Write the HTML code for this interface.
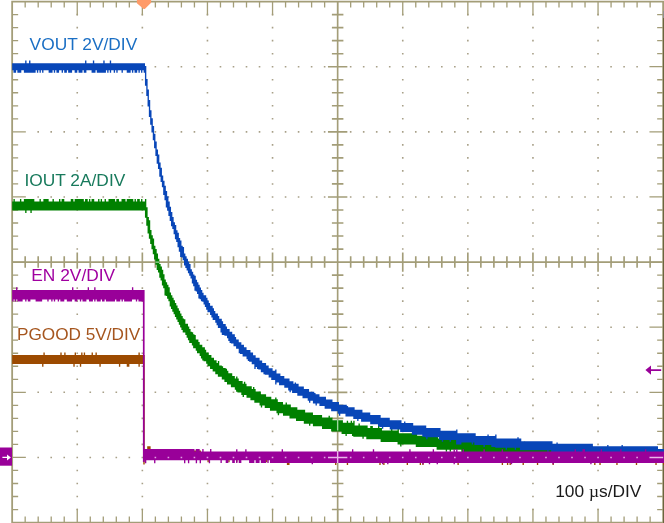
<!DOCTYPE html>
<html><head><meta charset="utf-8"><title>Scope capture</title>
<style>
html,body{margin:0;padding:0;background:#fff;}
body{width:664px;height:523px;overflow:hidden;}
svg{display:block;}
text{font-family:"Liberation Sans",Arial,Helvetica,sans-serif;font-size:17.35px;}
.mu{font-family:"Liberation Serif","Times New Roman",serif;}
</style></head><body>
<svg width="664" height="523" viewBox="0 0 664 523">
<rect width="664" height="523" fill="#fff"/>
<path d="M37.39 65.92h1.6v1.6h-1.6zM37.39 131.04h1.6v1.6h-1.6zM37.39 196.16h1.6v1.6h-1.6zM37.39 326.4h1.6v1.6h-1.6zM37.39 391.52h1.6v1.6h-1.6zM37.39 456.64h1.6v1.6h-1.6zM50.41 65.92h1.6v1.6h-1.6zM50.41 131.04h1.6v1.6h-1.6zM50.41 196.16h1.6v1.6h-1.6zM50.41 326.4h1.6v1.6h-1.6zM50.41 391.52h1.6v1.6h-1.6zM50.41 456.64h1.6v1.6h-1.6zM63.43 65.92h1.6v1.6h-1.6zM63.43 131.04h1.6v1.6h-1.6zM63.43 196.16h1.6v1.6h-1.6zM63.43 326.4h1.6v1.6h-1.6zM63.43 391.52h1.6v1.6h-1.6zM63.43 456.64h1.6v1.6h-1.6zM76.45 13.82h1.6v1.6h-1.6zM76.45 26.85h1.6v1.6h-1.6zM76.45 39.87h1.6v1.6h-1.6zM76.45 52.9h1.6v1.6h-1.6zM76.45 65.92h1.6v1.6h-1.6zM76.45 78.94h1.6v1.6h-1.6zM76.45 91.97h1.6v1.6h-1.6zM76.45 104.99h1.6v1.6h-1.6zM76.45 118.02h1.6v1.6h-1.6zM76.45 131.04h1.6v1.6h-1.6zM76.45 144.06h1.6v1.6h-1.6zM76.45 157.09h1.6v1.6h-1.6zM76.45 170.11h1.6v1.6h-1.6zM76.45 183.14h1.6v1.6h-1.6zM76.45 196.16h1.6v1.6h-1.6zM76.45 209.18h1.6v1.6h-1.6zM76.45 222.21h1.6v1.6h-1.6zM76.45 235.23h1.6v1.6h-1.6zM76.45 248.26h1.6v1.6h-1.6zM76.45 274.3h1.6v1.6h-1.6zM76.45 287.33h1.6v1.6h-1.6zM76.45 300.35h1.6v1.6h-1.6zM76.45 313.38h1.6v1.6h-1.6zM76.45 326.4h1.6v1.6h-1.6zM76.45 339.42h1.6v1.6h-1.6zM76.45 352.45h1.6v1.6h-1.6zM76.45 365.47h1.6v1.6h-1.6zM76.45 378.5h1.6v1.6h-1.6zM76.45 391.52h1.6v1.6h-1.6zM76.45 404.54h1.6v1.6h-1.6zM76.45 417.57h1.6v1.6h-1.6zM76.45 430.59h1.6v1.6h-1.6zM76.45 443.62h1.6v1.6h-1.6zM76.45 456.64h1.6v1.6h-1.6zM76.45 469.66h1.6v1.6h-1.6zM76.45 482.69h1.6v1.6h-1.6zM76.45 495.71h1.6v1.6h-1.6zM76.45 508.74h1.6v1.6h-1.6zM89.47 65.92h1.6v1.6h-1.6zM89.47 131.04h1.6v1.6h-1.6zM89.47 196.16h1.6v1.6h-1.6zM89.47 326.4h1.6v1.6h-1.6zM89.47 391.52h1.6v1.6h-1.6zM89.47 456.64h1.6v1.6h-1.6zM102.49 65.92h1.6v1.6h-1.6zM102.49 131.04h1.6v1.6h-1.6zM102.49 196.16h1.6v1.6h-1.6zM102.49 326.4h1.6v1.6h-1.6zM102.49 391.52h1.6v1.6h-1.6zM102.49 456.64h1.6v1.6h-1.6zM115.51 65.92h1.6v1.6h-1.6zM115.51 131.04h1.6v1.6h-1.6zM115.51 196.16h1.6v1.6h-1.6zM115.51 326.4h1.6v1.6h-1.6zM115.51 391.52h1.6v1.6h-1.6zM115.51 456.64h1.6v1.6h-1.6zM128.53 65.92h1.6v1.6h-1.6zM128.53 131.04h1.6v1.6h-1.6zM128.53 196.16h1.6v1.6h-1.6zM128.53 326.4h1.6v1.6h-1.6zM128.53 391.52h1.6v1.6h-1.6zM128.53 456.64h1.6v1.6h-1.6zM141.55 13.82h1.6v1.6h-1.6zM141.55 26.85h1.6v1.6h-1.6zM141.55 39.87h1.6v1.6h-1.6zM141.55 52.9h1.6v1.6h-1.6zM141.55 65.92h1.6v1.6h-1.6zM141.55 78.94h1.6v1.6h-1.6zM141.55 91.97h1.6v1.6h-1.6zM141.55 104.99h1.6v1.6h-1.6zM141.55 118.02h1.6v1.6h-1.6zM141.55 131.04h1.6v1.6h-1.6zM141.55 144.06h1.6v1.6h-1.6zM141.55 157.09h1.6v1.6h-1.6zM141.55 170.11h1.6v1.6h-1.6zM141.55 183.14h1.6v1.6h-1.6zM141.55 196.16h1.6v1.6h-1.6zM141.55 209.18h1.6v1.6h-1.6zM141.55 222.21h1.6v1.6h-1.6zM141.55 235.23h1.6v1.6h-1.6zM141.55 248.26h1.6v1.6h-1.6zM141.55 274.3h1.6v1.6h-1.6zM141.55 287.33h1.6v1.6h-1.6zM141.55 300.35h1.6v1.6h-1.6zM141.55 313.38h1.6v1.6h-1.6zM141.55 326.4h1.6v1.6h-1.6zM141.55 339.42h1.6v1.6h-1.6zM141.55 352.45h1.6v1.6h-1.6zM141.55 365.47h1.6v1.6h-1.6zM141.55 378.5h1.6v1.6h-1.6zM141.55 391.52h1.6v1.6h-1.6zM141.55 404.54h1.6v1.6h-1.6zM141.55 417.57h1.6v1.6h-1.6zM141.55 430.59h1.6v1.6h-1.6zM141.55 443.62h1.6v1.6h-1.6zM141.55 456.64h1.6v1.6h-1.6zM141.55 469.66h1.6v1.6h-1.6zM141.55 482.69h1.6v1.6h-1.6zM141.55 495.71h1.6v1.6h-1.6zM141.55 508.74h1.6v1.6h-1.6zM154.57 65.92h1.6v1.6h-1.6zM154.57 131.04h1.6v1.6h-1.6zM154.57 196.16h1.6v1.6h-1.6zM154.57 326.4h1.6v1.6h-1.6zM154.57 391.52h1.6v1.6h-1.6zM154.57 456.64h1.6v1.6h-1.6zM167.59 65.92h1.6v1.6h-1.6zM167.59 131.04h1.6v1.6h-1.6zM167.59 196.16h1.6v1.6h-1.6zM167.59 326.4h1.6v1.6h-1.6zM167.59 391.52h1.6v1.6h-1.6zM167.59 456.64h1.6v1.6h-1.6zM180.61 65.92h1.6v1.6h-1.6zM180.61 131.04h1.6v1.6h-1.6zM180.61 196.16h1.6v1.6h-1.6zM180.61 326.4h1.6v1.6h-1.6zM180.61 391.52h1.6v1.6h-1.6zM180.61 456.64h1.6v1.6h-1.6zM193.63 65.92h1.6v1.6h-1.6zM193.63 131.04h1.6v1.6h-1.6zM193.63 196.16h1.6v1.6h-1.6zM193.63 326.4h1.6v1.6h-1.6zM193.63 391.52h1.6v1.6h-1.6zM193.63 456.64h1.6v1.6h-1.6zM206.65 13.82h1.6v1.6h-1.6zM206.65 26.85h1.6v1.6h-1.6zM206.65 39.87h1.6v1.6h-1.6zM206.65 52.9h1.6v1.6h-1.6zM206.65 65.92h1.6v1.6h-1.6zM206.65 78.94h1.6v1.6h-1.6zM206.65 91.97h1.6v1.6h-1.6zM206.65 104.99h1.6v1.6h-1.6zM206.65 118.02h1.6v1.6h-1.6zM206.65 131.04h1.6v1.6h-1.6zM206.65 144.06h1.6v1.6h-1.6zM206.65 157.09h1.6v1.6h-1.6zM206.65 170.11h1.6v1.6h-1.6zM206.65 183.14h1.6v1.6h-1.6zM206.65 196.16h1.6v1.6h-1.6zM206.65 209.18h1.6v1.6h-1.6zM206.65 222.21h1.6v1.6h-1.6zM206.65 235.23h1.6v1.6h-1.6zM206.65 248.26h1.6v1.6h-1.6zM206.65 274.3h1.6v1.6h-1.6zM206.65 287.33h1.6v1.6h-1.6zM206.65 300.35h1.6v1.6h-1.6zM206.65 313.38h1.6v1.6h-1.6zM206.65 326.4h1.6v1.6h-1.6zM206.65 339.42h1.6v1.6h-1.6zM206.65 352.45h1.6v1.6h-1.6zM206.65 365.47h1.6v1.6h-1.6zM206.65 378.5h1.6v1.6h-1.6zM206.65 391.52h1.6v1.6h-1.6zM206.65 404.54h1.6v1.6h-1.6zM206.65 417.57h1.6v1.6h-1.6zM206.65 430.59h1.6v1.6h-1.6zM206.65 443.62h1.6v1.6h-1.6zM206.65 456.64h1.6v1.6h-1.6zM206.65 469.66h1.6v1.6h-1.6zM206.65 482.69h1.6v1.6h-1.6zM206.65 495.71h1.6v1.6h-1.6zM206.65 508.74h1.6v1.6h-1.6zM219.67 65.92h1.6v1.6h-1.6zM219.67 131.04h1.6v1.6h-1.6zM219.67 196.16h1.6v1.6h-1.6zM219.67 326.4h1.6v1.6h-1.6zM219.67 391.52h1.6v1.6h-1.6zM219.67 456.64h1.6v1.6h-1.6zM232.69 65.92h1.6v1.6h-1.6zM232.69 131.04h1.6v1.6h-1.6zM232.69 196.16h1.6v1.6h-1.6zM232.69 326.4h1.6v1.6h-1.6zM232.69 391.52h1.6v1.6h-1.6zM232.69 456.64h1.6v1.6h-1.6zM245.71 65.92h1.6v1.6h-1.6zM245.71 131.04h1.6v1.6h-1.6zM245.71 196.16h1.6v1.6h-1.6zM245.71 326.4h1.6v1.6h-1.6zM245.71 391.52h1.6v1.6h-1.6zM245.71 456.64h1.6v1.6h-1.6zM258.73 65.92h1.6v1.6h-1.6zM258.73 131.04h1.6v1.6h-1.6zM258.73 196.16h1.6v1.6h-1.6zM258.73 326.4h1.6v1.6h-1.6zM258.73 391.52h1.6v1.6h-1.6zM258.73 456.64h1.6v1.6h-1.6zM271.75 13.82h1.6v1.6h-1.6zM271.75 26.85h1.6v1.6h-1.6zM271.75 39.87h1.6v1.6h-1.6zM271.75 52.9h1.6v1.6h-1.6zM271.75 65.92h1.6v1.6h-1.6zM271.75 78.94h1.6v1.6h-1.6zM271.75 91.97h1.6v1.6h-1.6zM271.75 104.99h1.6v1.6h-1.6zM271.75 118.02h1.6v1.6h-1.6zM271.75 131.04h1.6v1.6h-1.6zM271.75 144.06h1.6v1.6h-1.6zM271.75 157.09h1.6v1.6h-1.6zM271.75 170.11h1.6v1.6h-1.6zM271.75 183.14h1.6v1.6h-1.6zM271.75 196.16h1.6v1.6h-1.6zM271.75 209.18h1.6v1.6h-1.6zM271.75 222.21h1.6v1.6h-1.6zM271.75 235.23h1.6v1.6h-1.6zM271.75 248.26h1.6v1.6h-1.6zM271.75 274.3h1.6v1.6h-1.6zM271.75 287.33h1.6v1.6h-1.6zM271.75 300.35h1.6v1.6h-1.6zM271.75 313.38h1.6v1.6h-1.6zM271.75 326.4h1.6v1.6h-1.6zM271.75 339.42h1.6v1.6h-1.6zM271.75 352.45h1.6v1.6h-1.6zM271.75 365.47h1.6v1.6h-1.6zM271.75 378.5h1.6v1.6h-1.6zM271.75 391.52h1.6v1.6h-1.6zM271.75 404.54h1.6v1.6h-1.6zM271.75 417.57h1.6v1.6h-1.6zM271.75 430.59h1.6v1.6h-1.6zM271.75 443.62h1.6v1.6h-1.6zM271.75 456.64h1.6v1.6h-1.6zM271.75 469.66h1.6v1.6h-1.6zM271.75 482.69h1.6v1.6h-1.6zM271.75 495.71h1.6v1.6h-1.6zM271.75 508.74h1.6v1.6h-1.6zM284.77 65.92h1.6v1.6h-1.6zM284.77 131.04h1.6v1.6h-1.6zM284.77 196.16h1.6v1.6h-1.6zM284.77 326.4h1.6v1.6h-1.6zM284.77 391.52h1.6v1.6h-1.6zM284.77 456.64h1.6v1.6h-1.6zM297.79 65.92h1.6v1.6h-1.6zM297.79 131.04h1.6v1.6h-1.6zM297.79 196.16h1.6v1.6h-1.6zM297.79 326.4h1.6v1.6h-1.6zM297.79 391.52h1.6v1.6h-1.6zM297.79 456.64h1.6v1.6h-1.6zM310.81 65.92h1.6v1.6h-1.6zM310.81 131.04h1.6v1.6h-1.6zM310.81 196.16h1.6v1.6h-1.6zM310.81 326.4h1.6v1.6h-1.6zM310.81 391.52h1.6v1.6h-1.6zM310.81 456.64h1.6v1.6h-1.6zM323.83 65.92h1.6v1.6h-1.6zM323.83 131.04h1.6v1.6h-1.6zM323.83 196.16h1.6v1.6h-1.6zM323.83 326.4h1.6v1.6h-1.6zM323.83 391.52h1.6v1.6h-1.6zM323.83 456.64h1.6v1.6h-1.6zM349.87 65.92h1.6v1.6h-1.6zM349.87 131.04h1.6v1.6h-1.6zM349.87 196.16h1.6v1.6h-1.6zM349.87 326.4h1.6v1.6h-1.6zM349.87 391.52h1.6v1.6h-1.6zM349.87 456.64h1.6v1.6h-1.6zM362.89 65.92h1.6v1.6h-1.6zM362.89 131.04h1.6v1.6h-1.6zM362.89 196.16h1.6v1.6h-1.6zM362.89 326.4h1.6v1.6h-1.6zM362.89 391.52h1.6v1.6h-1.6zM362.89 456.64h1.6v1.6h-1.6zM375.91 65.92h1.6v1.6h-1.6zM375.91 131.04h1.6v1.6h-1.6zM375.91 196.16h1.6v1.6h-1.6zM375.91 326.4h1.6v1.6h-1.6zM375.91 391.52h1.6v1.6h-1.6zM375.91 456.64h1.6v1.6h-1.6zM388.93 65.92h1.6v1.6h-1.6zM388.93 131.04h1.6v1.6h-1.6zM388.93 196.16h1.6v1.6h-1.6zM388.93 326.4h1.6v1.6h-1.6zM388.93 391.52h1.6v1.6h-1.6zM388.93 456.64h1.6v1.6h-1.6zM401.95 13.82h1.6v1.6h-1.6zM401.95 26.85h1.6v1.6h-1.6zM401.95 39.87h1.6v1.6h-1.6zM401.95 52.9h1.6v1.6h-1.6zM401.95 65.92h1.6v1.6h-1.6zM401.95 78.94h1.6v1.6h-1.6zM401.95 91.97h1.6v1.6h-1.6zM401.95 104.99h1.6v1.6h-1.6zM401.95 118.02h1.6v1.6h-1.6zM401.95 131.04h1.6v1.6h-1.6zM401.95 144.06h1.6v1.6h-1.6zM401.95 157.09h1.6v1.6h-1.6zM401.95 170.11h1.6v1.6h-1.6zM401.95 183.14h1.6v1.6h-1.6zM401.95 196.16h1.6v1.6h-1.6zM401.95 209.18h1.6v1.6h-1.6zM401.95 222.21h1.6v1.6h-1.6zM401.95 235.23h1.6v1.6h-1.6zM401.95 248.26h1.6v1.6h-1.6zM401.95 274.3h1.6v1.6h-1.6zM401.95 287.33h1.6v1.6h-1.6zM401.95 300.35h1.6v1.6h-1.6zM401.95 313.38h1.6v1.6h-1.6zM401.95 326.4h1.6v1.6h-1.6zM401.95 339.42h1.6v1.6h-1.6zM401.95 352.45h1.6v1.6h-1.6zM401.95 365.47h1.6v1.6h-1.6zM401.95 378.5h1.6v1.6h-1.6zM401.95 391.52h1.6v1.6h-1.6zM401.95 404.54h1.6v1.6h-1.6zM401.95 417.57h1.6v1.6h-1.6zM401.95 430.59h1.6v1.6h-1.6zM401.95 443.62h1.6v1.6h-1.6zM401.95 456.64h1.6v1.6h-1.6zM401.95 469.66h1.6v1.6h-1.6zM401.95 482.69h1.6v1.6h-1.6zM401.95 495.71h1.6v1.6h-1.6zM401.95 508.74h1.6v1.6h-1.6zM414.97 65.92h1.6v1.6h-1.6zM414.97 131.04h1.6v1.6h-1.6zM414.97 196.16h1.6v1.6h-1.6zM414.97 326.4h1.6v1.6h-1.6zM414.97 391.52h1.6v1.6h-1.6zM414.97 456.64h1.6v1.6h-1.6zM427.99 65.92h1.6v1.6h-1.6zM427.99 131.04h1.6v1.6h-1.6zM427.99 196.16h1.6v1.6h-1.6zM427.99 326.4h1.6v1.6h-1.6zM427.99 391.52h1.6v1.6h-1.6zM427.99 456.64h1.6v1.6h-1.6zM441.01 65.92h1.6v1.6h-1.6zM441.01 131.04h1.6v1.6h-1.6zM441.01 196.16h1.6v1.6h-1.6zM441.01 326.4h1.6v1.6h-1.6zM441.01 391.52h1.6v1.6h-1.6zM441.01 456.64h1.6v1.6h-1.6zM454.03 65.92h1.6v1.6h-1.6zM454.03 131.04h1.6v1.6h-1.6zM454.03 196.16h1.6v1.6h-1.6zM454.03 326.4h1.6v1.6h-1.6zM454.03 391.52h1.6v1.6h-1.6zM454.03 456.64h1.6v1.6h-1.6zM467.05 13.82h1.6v1.6h-1.6zM467.05 26.85h1.6v1.6h-1.6zM467.05 39.87h1.6v1.6h-1.6zM467.05 52.9h1.6v1.6h-1.6zM467.05 65.92h1.6v1.6h-1.6zM467.05 78.94h1.6v1.6h-1.6zM467.05 91.97h1.6v1.6h-1.6zM467.05 104.99h1.6v1.6h-1.6zM467.05 118.02h1.6v1.6h-1.6zM467.05 131.04h1.6v1.6h-1.6zM467.05 144.06h1.6v1.6h-1.6zM467.05 157.09h1.6v1.6h-1.6zM467.05 170.11h1.6v1.6h-1.6zM467.05 183.14h1.6v1.6h-1.6zM467.05 196.16h1.6v1.6h-1.6zM467.05 209.18h1.6v1.6h-1.6zM467.05 222.21h1.6v1.6h-1.6zM467.05 235.23h1.6v1.6h-1.6zM467.05 248.26h1.6v1.6h-1.6zM467.05 274.3h1.6v1.6h-1.6zM467.05 287.33h1.6v1.6h-1.6zM467.05 300.35h1.6v1.6h-1.6zM467.05 313.38h1.6v1.6h-1.6zM467.05 326.4h1.6v1.6h-1.6zM467.05 339.42h1.6v1.6h-1.6zM467.05 352.45h1.6v1.6h-1.6zM467.05 365.47h1.6v1.6h-1.6zM467.05 378.5h1.6v1.6h-1.6zM467.05 391.52h1.6v1.6h-1.6zM467.05 404.54h1.6v1.6h-1.6zM467.05 417.57h1.6v1.6h-1.6zM467.05 430.59h1.6v1.6h-1.6zM467.05 443.62h1.6v1.6h-1.6zM467.05 456.64h1.6v1.6h-1.6zM467.05 469.66h1.6v1.6h-1.6zM467.05 482.69h1.6v1.6h-1.6zM467.05 495.71h1.6v1.6h-1.6zM467.05 508.74h1.6v1.6h-1.6zM480.07 65.92h1.6v1.6h-1.6zM480.07 131.04h1.6v1.6h-1.6zM480.07 196.16h1.6v1.6h-1.6zM480.07 326.4h1.6v1.6h-1.6zM480.07 391.52h1.6v1.6h-1.6zM480.07 456.64h1.6v1.6h-1.6zM493.09 65.92h1.6v1.6h-1.6zM493.09 131.04h1.6v1.6h-1.6zM493.09 196.16h1.6v1.6h-1.6zM493.09 326.4h1.6v1.6h-1.6zM493.09 391.52h1.6v1.6h-1.6zM493.09 456.64h1.6v1.6h-1.6zM506.11 65.92h1.6v1.6h-1.6zM506.11 131.04h1.6v1.6h-1.6zM506.11 196.16h1.6v1.6h-1.6zM506.11 326.4h1.6v1.6h-1.6zM506.11 391.52h1.6v1.6h-1.6zM506.11 456.64h1.6v1.6h-1.6zM519.13 65.92h1.6v1.6h-1.6zM519.13 131.04h1.6v1.6h-1.6zM519.13 196.16h1.6v1.6h-1.6zM519.13 326.4h1.6v1.6h-1.6zM519.13 391.52h1.6v1.6h-1.6zM519.13 456.64h1.6v1.6h-1.6zM532.15 13.82h1.6v1.6h-1.6zM532.15 26.85h1.6v1.6h-1.6zM532.15 39.87h1.6v1.6h-1.6zM532.15 52.9h1.6v1.6h-1.6zM532.15 65.92h1.6v1.6h-1.6zM532.15 78.94h1.6v1.6h-1.6zM532.15 91.97h1.6v1.6h-1.6zM532.15 104.99h1.6v1.6h-1.6zM532.15 118.02h1.6v1.6h-1.6zM532.15 131.04h1.6v1.6h-1.6zM532.15 144.06h1.6v1.6h-1.6zM532.15 157.09h1.6v1.6h-1.6zM532.15 170.11h1.6v1.6h-1.6zM532.15 183.14h1.6v1.6h-1.6zM532.15 196.16h1.6v1.6h-1.6zM532.15 209.18h1.6v1.6h-1.6zM532.15 222.21h1.6v1.6h-1.6zM532.15 235.23h1.6v1.6h-1.6zM532.15 248.26h1.6v1.6h-1.6zM532.15 274.3h1.6v1.6h-1.6zM532.15 287.33h1.6v1.6h-1.6zM532.15 300.35h1.6v1.6h-1.6zM532.15 313.38h1.6v1.6h-1.6zM532.15 326.4h1.6v1.6h-1.6zM532.15 339.42h1.6v1.6h-1.6zM532.15 352.45h1.6v1.6h-1.6zM532.15 365.47h1.6v1.6h-1.6zM532.15 378.5h1.6v1.6h-1.6zM532.15 391.52h1.6v1.6h-1.6zM532.15 404.54h1.6v1.6h-1.6zM532.15 417.57h1.6v1.6h-1.6zM532.15 430.59h1.6v1.6h-1.6zM532.15 443.62h1.6v1.6h-1.6zM532.15 456.64h1.6v1.6h-1.6zM532.15 469.66h1.6v1.6h-1.6zM532.15 482.69h1.6v1.6h-1.6zM532.15 495.71h1.6v1.6h-1.6zM532.15 508.74h1.6v1.6h-1.6zM545.17 65.92h1.6v1.6h-1.6zM545.17 131.04h1.6v1.6h-1.6zM545.17 196.16h1.6v1.6h-1.6zM545.17 326.4h1.6v1.6h-1.6zM545.17 391.52h1.6v1.6h-1.6zM545.17 456.64h1.6v1.6h-1.6zM558.19 65.92h1.6v1.6h-1.6zM558.19 131.04h1.6v1.6h-1.6zM558.19 196.16h1.6v1.6h-1.6zM558.19 326.4h1.6v1.6h-1.6zM558.19 391.52h1.6v1.6h-1.6zM558.19 456.64h1.6v1.6h-1.6zM571.21 65.92h1.6v1.6h-1.6zM571.21 131.04h1.6v1.6h-1.6zM571.21 196.16h1.6v1.6h-1.6zM571.21 326.4h1.6v1.6h-1.6zM571.21 391.52h1.6v1.6h-1.6zM571.21 456.64h1.6v1.6h-1.6zM584.23 65.92h1.6v1.6h-1.6zM584.23 131.04h1.6v1.6h-1.6zM584.23 196.16h1.6v1.6h-1.6zM584.23 326.4h1.6v1.6h-1.6zM584.23 391.52h1.6v1.6h-1.6zM584.23 456.64h1.6v1.6h-1.6zM597.25 13.82h1.6v1.6h-1.6zM597.25 26.85h1.6v1.6h-1.6zM597.25 39.87h1.6v1.6h-1.6zM597.25 52.9h1.6v1.6h-1.6zM597.25 65.92h1.6v1.6h-1.6zM597.25 78.94h1.6v1.6h-1.6zM597.25 91.97h1.6v1.6h-1.6zM597.25 104.99h1.6v1.6h-1.6zM597.25 118.02h1.6v1.6h-1.6zM597.25 131.04h1.6v1.6h-1.6zM597.25 144.06h1.6v1.6h-1.6zM597.25 157.09h1.6v1.6h-1.6zM597.25 170.11h1.6v1.6h-1.6zM597.25 183.14h1.6v1.6h-1.6zM597.25 196.16h1.6v1.6h-1.6zM597.25 209.18h1.6v1.6h-1.6zM597.25 222.21h1.6v1.6h-1.6zM597.25 235.23h1.6v1.6h-1.6zM597.25 248.26h1.6v1.6h-1.6zM597.25 274.3h1.6v1.6h-1.6zM597.25 287.33h1.6v1.6h-1.6zM597.25 300.35h1.6v1.6h-1.6zM597.25 313.38h1.6v1.6h-1.6zM597.25 326.4h1.6v1.6h-1.6zM597.25 339.42h1.6v1.6h-1.6zM597.25 352.45h1.6v1.6h-1.6zM597.25 365.47h1.6v1.6h-1.6zM597.25 378.5h1.6v1.6h-1.6zM597.25 391.52h1.6v1.6h-1.6zM597.25 404.54h1.6v1.6h-1.6zM597.25 417.57h1.6v1.6h-1.6zM597.25 430.59h1.6v1.6h-1.6zM597.25 443.62h1.6v1.6h-1.6zM597.25 456.64h1.6v1.6h-1.6zM597.25 469.66h1.6v1.6h-1.6zM597.25 482.69h1.6v1.6h-1.6zM597.25 495.71h1.6v1.6h-1.6zM597.25 508.74h1.6v1.6h-1.6zM610.27 65.92h1.6v1.6h-1.6zM610.27 131.04h1.6v1.6h-1.6zM610.27 196.16h1.6v1.6h-1.6zM610.27 326.4h1.6v1.6h-1.6zM610.27 391.52h1.6v1.6h-1.6zM610.27 456.64h1.6v1.6h-1.6zM623.29 65.92h1.6v1.6h-1.6zM623.29 131.04h1.6v1.6h-1.6zM623.29 196.16h1.6v1.6h-1.6zM623.29 326.4h1.6v1.6h-1.6zM623.29 391.52h1.6v1.6h-1.6zM623.29 456.64h1.6v1.6h-1.6zM636.31 65.92h1.6v1.6h-1.6zM636.31 131.04h1.6v1.6h-1.6zM636.31 196.16h1.6v1.6h-1.6zM636.31 326.4h1.6v1.6h-1.6zM636.31 391.52h1.6v1.6h-1.6zM636.31 456.64h1.6v1.6h-1.6z" fill="#a8a088"/>
<g fill="none" stroke="#a39d78"><path d="M12.15 1.6H663.15V522.56H12.15Z" stroke-width="1.8"/><path d="M25.17 1.6v6M25.17 522.56v-6M38.19 1.6v6M38.19 522.56v-6M51.21 1.6v6M51.21 522.56v-6M64.23 1.6v6M64.23 522.56v-6M77.25 1.6v13.7M77.25 522.56v-13.7M90.27 1.6v6M90.27 522.56v-6M103.29 1.6v6M103.29 522.56v-6M116.31 1.6v6M116.31 522.56v-6M129.33 1.6v6M129.33 522.56v-6M142.35 1.6v13.7M142.35 522.56v-13.7M155.37 1.6v6M155.37 522.56v-6M168.39 1.6v6M168.39 522.56v-6M181.41 1.6v6M181.41 522.56v-6M194.43 1.6v6M194.43 522.56v-6M207.45 1.6v13.7M207.45 522.56v-13.7M220.47 1.6v6M220.47 522.56v-6M233.49 1.6v6M233.49 522.56v-6M246.51 1.6v6M246.51 522.56v-6M259.53 1.6v6M259.53 522.56v-6M272.55 1.6v13.7M272.55 522.56v-13.7M285.57 1.6v6M285.57 522.56v-6M298.59 1.6v6M298.59 522.56v-6M311.61 1.6v6M311.61 522.56v-6M324.63 1.6v6M324.63 522.56v-6M337.65 1.6v13.7M337.65 522.56v-13.7M350.67 1.6v6M350.67 522.56v-6M363.69 1.6v6M363.69 522.56v-6M376.71 1.6v6M376.71 522.56v-6M389.73 1.6v6M389.73 522.56v-6M402.75 1.6v13.7M402.75 522.56v-13.7M415.77 1.6v6M415.77 522.56v-6M428.79 1.6v6M428.79 522.56v-6M441.81 1.6v6M441.81 522.56v-6M454.83 1.6v6M454.83 522.56v-6M467.85 1.6v13.7M467.85 522.56v-13.7M480.87 1.6v6M480.87 522.56v-6M493.89 1.6v6M493.89 522.56v-6M506.91 1.6v6M506.91 522.56v-6M519.93 1.6v6M519.93 522.56v-6M532.95 1.6v13.7M532.95 522.56v-13.7M545.97 1.6v6M545.97 522.56v-6M558.99 1.6v6M558.99 522.56v-6M572.01 1.6v6M572.01 522.56v-6M585.03 1.6v6M585.03 522.56v-6M598.05 1.6v13.7M598.05 522.56v-13.7M611.07 1.6v6M611.07 522.56v-6M624.09 1.6v6M624.09 522.56v-6M637.11 1.6v6M637.11 522.56v-6M650.13 1.6v6M650.13 522.56v-6M12.15 14.62h6M663.15 14.62h-6M12.15 27.65h6M663.15 27.65h-6M12.15 40.67h6M663.15 40.67h-6M12.15 53.7h6M663.15 53.7h-6M12.15 66.72h13.7M663.15 66.72h-13.7M12.15 79.74h6M663.15 79.74h-6M12.15 92.77h6M663.15 92.77h-6M12.15 105.79h6M663.15 105.79h-6M12.15 118.82h6M663.15 118.82h-6M12.15 131.84h13.7M663.15 131.84h-13.7M12.15 144.86h6M663.15 144.86h-6M12.15 157.89h6M663.15 157.89h-6M12.15 170.91h6M663.15 170.91h-6M12.15 183.94h6M663.15 183.94h-6M12.15 196.96h13.7M663.15 196.96h-13.7M12.15 209.98h6M663.15 209.98h-6M12.15 223.01h6M663.15 223.01h-6M12.15 236.03h6M663.15 236.03h-6M12.15 249.06h6M663.15 249.06h-6M12.15 262.08h13.7M663.15 262.08h-13.7M12.15 275.1h6M663.15 275.1h-6M12.15 288.13h6M663.15 288.13h-6M12.15 301.15h6M663.15 301.15h-6M12.15 314.18h6M663.15 314.18h-6M12.15 327.2h13.7M663.15 327.2h-13.7M12.15 340.22h6M663.15 340.22h-6M12.15 353.25h6M663.15 353.25h-6M12.15 366.27h6M663.15 366.27h-6M12.15 379.3h6M663.15 379.3h-6M12.15 392.32h13.7M663.15 392.32h-13.7M12.15 405.34h6M663.15 405.34h-6M12.15 418.37h6M663.15 418.37h-6M12.15 431.39h6M663.15 431.39h-6M12.15 444.42h6M663.15 444.42h-6M12.15 457.44h13.7M663.15 457.44h-13.7M12.15 470.46h6M663.15 470.46h-6M12.15 483.49h6M663.15 483.49h-6M12.15 496.51h6M663.15 496.51h-6M12.15 509.54h6M663.15 509.54h-6" stroke-width="1.3"/><path d="M337.65 1.6V522.56M12.15 262.08H663.15M25.17 256.33v11.5M38.19 256.33v11.5M51.21 256.33v11.5M64.23 256.33v11.5M77.25 252.38v19.4M90.27 256.33v11.5M103.29 256.33v11.5M116.31 256.33v11.5M129.33 256.33v11.5M142.35 252.38v19.4M155.37 256.33v11.5M168.39 256.33v11.5M181.41 256.33v11.5M194.43 256.33v11.5M207.45 252.38v19.4M220.47 256.33v11.5M233.49 256.33v11.5M246.51 256.33v11.5M259.53 256.33v11.5M272.55 252.38v19.4M285.57 256.33v11.5M298.59 256.33v11.5M311.61 256.33v11.5M324.63 256.33v11.5M350.67 256.33v11.5M363.69 256.33v11.5M376.71 256.33v11.5M389.73 256.33v11.5M402.75 252.38v19.4M415.77 256.33v11.5M428.79 256.33v11.5M441.81 256.33v11.5M454.83 256.33v11.5M467.85 252.38v19.4M480.87 256.33v11.5M493.89 256.33v11.5M506.91 256.33v11.5M519.93 256.33v11.5M532.95 252.38v19.4M545.97 256.33v11.5M558.99 256.33v11.5M572.01 256.33v11.5M585.03 256.33v11.5M598.05 252.38v19.4M611.07 256.33v11.5M624.09 256.33v11.5M637.11 256.33v11.5M650.13 256.33v11.5M337.65 14.62m-5.75 0h11.5M337.65 27.65m-5.75 0h11.5M337.65 40.67m-5.75 0h11.5M337.65 53.7m-5.75 0h11.5M337.65 66.72m-9.7 0h19.4M337.65 79.74m-5.75 0h11.5M337.65 92.77m-5.75 0h11.5M337.65 105.79m-5.75 0h11.5M337.65 118.82m-5.75 0h11.5M337.65 131.84m-9.7 0h19.4M337.65 144.86m-5.75 0h11.5M337.65 157.89m-5.75 0h11.5M337.65 170.91m-5.75 0h11.5M337.65 183.94m-5.75 0h11.5M337.65 196.96m-9.7 0h19.4M337.65 209.98m-5.75 0h11.5M337.65 223.01m-5.75 0h11.5M337.65 236.03m-5.75 0h11.5M337.65 249.06m-5.75 0h11.5M337.65 275.1m-5.75 0h11.5M337.65 288.13m-5.75 0h11.5M337.65 301.15m-5.75 0h11.5M337.65 314.18m-5.75 0h11.5M337.65 327.2m-9.7 0h19.4M337.65 340.22m-5.75 0h11.5M337.65 353.25m-5.75 0h11.5M337.65 366.27m-5.75 0h11.5M337.65 379.3m-5.75 0h11.5M337.65 392.32m-9.7 0h19.4M337.65 405.34m-5.75 0h11.5M337.65 418.37m-5.75 0h11.5M337.65 431.39m-5.75 0h11.5M337.65 444.42m-5.75 0h11.5M337.65 457.44m-9.7 0h19.4M337.65 470.46m-5.75 0h11.5M337.65 483.49m-5.75 0h11.5M337.65 496.51m-5.75 0h11.5M337.65 509.54m-5.75 0h11.5" stroke-width="1.65"/></g>
<rect x="663" y="18" width="1" height="505" fill="#6a643f"/><rect x="663" y="11" width="1" height="7" fill="#8e8e8e"/>
<path d="M12.15 201.5H13.5V210.5H12.15ZM13.45 198.9H14.8V210.5H13.45ZM14.75 201.5H16.11V210.5H14.75ZM16.06 201.5H17.41V210.5H16.06ZM17.36 201.5H18.71V210.5H17.36ZM18.66 201.5H20.01V210.5H18.66ZM19.96 198.9H21.31V210.5H19.96ZM21.26 201.5H22.62V210.5H21.26ZM22.57 201.5H23.92V210.5H22.57ZM23.87 198.9H25.22V210.5H23.87ZM25.17 198.9H26.52V213.1H25.17ZM26.47 198.9H27.82V210.5H26.47ZM27.77 198.9H29.13V210.5H27.77ZM29.08 198.9H30.43V210.5H29.08ZM30.38 198.9H31.73V213.1H30.38ZM31.68 198.9H33.03V210.5H31.68ZM32.98 198.9H34.33V210.5H32.98ZM34.28 201.5H35.64V210.5H34.28ZM35.59 201.5H36.94V210.5H35.59ZM36.89 201.5H38.24V210.5H36.89ZM38.19 201.5H39.54V210.5H38.19ZM39.49 198.9H40.84V210.5H39.49ZM40.79 201.5H42.15V210.5H40.79ZM42.1 201.5H43.45V210.5H42.1ZM43.4 198.9H44.75V210.5H43.4ZM44.7 198.9H46.05V210.5H44.7ZM46 198.9H47.35V210.5H46ZM47.3 198.9H48.66V210.5H47.3ZM48.61 201.5H49.96V210.5H48.61ZM49.91 201.5H51.26V210.5H49.91ZM51.21 201.5H52.56V210.5H51.21ZM52.51 198.9H53.86V210.5H52.51ZM53.81 201.5H55.17V210.5H53.81ZM55.12 201.5H56.47V210.5H55.12ZM56.42 201.5H57.77V210.5H56.42ZM57.72 201.5H59.07V210.5H57.72ZM59.02 198.9H60.37V210.5H59.02ZM60.32 201.5H61.68V210.5H60.32ZM61.63 198.9H62.98V210.5H61.63ZM62.93 198.9H64.28V210.5H62.93ZM64.23 201.5H65.58V210.5H64.23ZM65.53 201.5H66.88V210.5H65.53ZM66.83 201.5H68.19V210.5H66.83ZM68.14 201.5H69.49V210.5H68.14ZM69.44 201.5H70.79V210.5H69.44ZM70.74 198.9H72.09V210.5H70.74ZM72.04 198.9H73.39V210.5H72.04ZM73.34 201.5H74.7V210.5H73.34ZM74.65 198.9H76V210.5H74.65ZM75.95 198.9H77.3V210.5H75.95ZM77.25 198.9H78.6V210.5H77.25ZM78.55 198.9H79.9V210.5H78.55ZM79.85 198.9H81.21V210.5H79.85ZM81.16 198.9H82.51V210.5H81.16ZM82.46 198.9H83.81V210.5H82.46ZM83.76 201.5H85.11V210.5H83.76ZM85.06 198.9H86.41V210.5H85.06ZM86.36 198.9H87.72V210.5H86.36ZM87.67 201.5H89.02V210.5H87.67ZM88.97 198.9H90.32V210.5H88.97ZM90.27 201.5H91.62V210.5H90.27ZM91.57 198.9H92.92V210.5H91.57ZM92.87 198.9H94.23V210.5H92.87ZM94.18 201.5H95.53V210.5H94.18ZM95.48 201.5H96.83V210.5H95.48ZM96.78 201.5H98.13V210.5H96.78ZM98.08 198.9H99.43V210.5H98.08ZM99.38 201.5H100.74V210.5H99.38ZM100.69 198.9H102.04V210.5H100.69ZM101.99 201.5H103.34V210.5H101.99ZM103.29 201.5H104.64V210.5H103.29ZM104.59 198.9H105.94V210.5H104.59ZM105.89 201.5H107.25V210.5H105.89ZM107.2 201.5H108.55V210.5H107.2ZM108.5 198.9H109.85V210.5H108.5ZM109.8 198.9H111.15V210.5H109.8ZM111.1 198.9H112.45V210.5H111.1ZM112.4 198.9H113.76V210.5H112.4ZM113.71 198.9H115.06V210.5H113.71ZM115.01 201.5H116.36V210.5H115.01ZM116.31 198.9H117.66V210.5H116.31ZM117.61 198.9H118.96V210.5H117.61ZM118.91 201.5H120.27V210.5H118.91ZM120.22 201.5H121.57V210.5H120.22ZM121.52 198.9H122.87V210.5H121.52ZM122.82 198.9H124.17V210.5H122.82ZM124.12 198.9H125.47V210.5H124.12ZM125.42 201.5H126.78V210.5H125.42ZM126.73 198.9H128.08V210.5H126.73ZM128.03 198.9H129.38V210.5H128.03ZM129.33 198.9H130.68V210.5H129.33ZM130.63 198.9H131.98V210.5H130.63ZM131.93 198.9H133.29V210.5H131.93ZM133.24 201.5H134.59V210.5H133.24ZM134.54 198.9H135.89V210.5H134.54ZM135.84 201.5H137.19V210.5H135.84ZM137.14 198.9H138.49V210.5H137.14ZM138.44 198.9H139.8V210.5H138.44ZM139.75 201.5H141.1V210.5H139.75ZM141.05 198.9H142.4V210.5H141.05ZM142.35 201.5H143.7V210.5H142.35ZM143.65 201.5H145V210.5H143.65ZM144.95 198.9H146.31V217.7H144.95ZM146.26 207.25H147.61V225.71H146.26ZM147.56 217.02H148.91V233.53H147.56ZM148.86 220.27H150.21V238.74H148.86ZM150.16 230.04H151.51V243.95H150.16ZM151.46 235.25H152.82V249.16H151.46ZM152.77 238.51H154.12V254.36H152.77ZM154.07 245.67H155.42V259.57H154.07ZM155.37 248.93H156.72V264.78H155.37ZM156.67 253.48H158.02V269.99H156.67ZM157.97 258.69H159.33V272.6H157.97ZM159.28 263.9H160.63V277.81H159.28ZM160.58 266.51H161.93V280.41H160.58ZM161.88 269.76H163.23V285.62H161.88ZM163.18 274.32H164.53V288.23H163.18ZM164.48 279.53H165.84V295.39H164.48ZM165.79 282.14H167.14V296.04H165.79ZM167.09 284.74H168.44V298.65H167.09ZM168.39 287.35H169.74V301.25H168.39ZM169.69 292.56H171.04V306.46H169.69ZM170.99 295.16H172.35V309.07H170.99ZM172.3 297.77H173.65V311.67H172.3ZM173.6 300.37H174.95V314.28H173.6ZM174.9 302.98H176.25V316.88H174.9ZM176.2 305.58H177.55V319.48H176.2ZM177.5 308.18H178.86V322.09H177.5ZM178.81 310.79H180.16V324.69H178.81ZM180.11 313.39H181.46V327.3H180.11ZM181.41 316H182.76V329.9H181.41ZM182.71 318.6H184.06V332.51H182.71ZM184.01 319.26H185.37V332.51H184.01ZM185.32 323.81H186.67V335.11H185.32ZM186.62 323.81H187.97V337.72H186.62ZM187.92 326.42H189.27V340.32H187.92ZM189.22 329.02H190.57V342.93H189.22ZM190.52 331.63H191.88V342.93H190.52ZM191.83 332.28H193.18V345.53H191.83ZM193.13 334.23H194.48V348.14H193.13ZM194.43 334.88H195.78V348.14H194.43ZM195.73 339.44H197.08V350.74H195.73ZM197.03 339.44H198.39V353.35H197.03ZM198.34 342.05H199.69V353.35H198.34ZM199.64 344.65H200.99V355.95H199.64ZM200.94 344.65H202.29V358.56H200.94ZM202.24 347.26H203.59V360.51H202.24ZM203.54 347.26H204.9V361.16H203.54ZM204.85 349.86H206.2V361.16H204.85ZM206.15 352.47H207.5V363.77H206.15ZM207.45 352.47H208.8V366.37H207.45ZM208.75 355.07H210.1V366.37H208.75ZM210.05 355.07H211.41V368.98H210.05ZM211.36 357.68H212.71V368.98H211.36ZM212.66 357.68H214.01V371.58H212.66ZM213.96 360.28H215.31V371.58H213.96ZM215.26 360.28H216.61V374.19H215.26ZM216.56 362.89H217.92V374.19H216.56ZM217.87 360.93H219.22V376.79H217.87ZM219.17 365.49H220.52V376.79H219.17ZM220.47 365.49H221.82V376.79H220.47ZM221.77 366.14H223.12V379.4H221.77ZM223.07 368.1H224.43V379.4H223.07ZM224.38 368.1H225.73V382H224.38ZM225.68 368.75H227.03V382H225.68ZM226.98 370.7H228.33V384.6H226.98ZM228.28 373.3H229.63V384.6H228.28ZM229.58 373.3H230.94V384.6H229.58ZM230.89 373.3H232.24V387.21H230.89ZM232.19 375.91H233.54V387.21H232.19ZM233.49 375.91H234.84V387.21H233.49ZM234.79 378.51H236.14V389.81H234.79ZM236.09 376.56H237.45V391.77H236.09ZM237.4 378.51H238.75V392.42H237.4ZM238.7 381.12H240.05V392.42H238.7ZM240 381.12H241.35V392.42H240ZM241.3 381.12H242.65V395.02H241.3ZM242.6 383.72H243.96V396.98H242.6ZM243.91 381.77H245.26V395.02H243.91ZM245.21 383.72H246.56V395.02H245.21ZM246.51 386.33H247.86V397.63H246.51ZM247.81 386.33H249.16V397.63H247.81ZM249.11 386.33H250.47V397.63H249.11ZM250.42 386.33H251.77V400.23H250.42ZM251.72 388.93H253.07V400.23H251.72ZM253.02 386.98H254.37V400.23H253.02ZM254.32 388.93H255.67V402.84H254.32ZM255.62 391.54H256.98V402.84H255.62ZM256.93 391.54H258.28V402.84H256.93ZM258.23 391.54H259.58V402.84H258.23ZM259.53 391.54H260.88V405.44H259.53ZM260.83 394.14H262.18V407.4H260.83ZM262.13 394.14H263.49V405.44H262.13ZM263.44 394.14H264.79V405.44H263.44ZM264.74 394.14H266.09V408.05H264.74ZM266.04 396.75H267.39V408.05H266.04ZM267.34 396.75H268.69V408.05H267.34ZM268.64 396.75H270V408.05H268.64ZM269.95 396.75H271.3V410.65H269.95ZM271.25 399.35H272.6V410.65H271.25ZM272.55 399.35H273.9V410.65H272.55ZM273.85 399.35H275.2V410.65H273.85ZM275.15 397.4H276.51V410.65H275.15ZM276.46 399.35H277.81V413.26H276.46ZM277.76 401.96H279.11V415.21H277.76ZM279.06 401.96H280.41V413.26H279.06ZM280.36 401.96H281.71V413.26H280.36ZM281.66 401.96H283.02V413.26H281.66ZM282.97 404.56H284.32V415.86H282.97ZM284.27 404.56H285.62V415.86H284.27ZM285.57 402.61H286.92V415.86H285.57ZM286.87 404.56H288.22V415.86H286.87ZM288.17 404.56H289.53V415.86H288.17ZM289.48 404.56H290.83V418.47H289.48ZM290.78 407.17H292.13V418.47H290.78ZM292.08 407.17H293.43V418.47H292.08ZM293.38 407.17H294.73V418.47H293.38ZM294.68 407.17H296.04V418.47H294.68ZM295.99 407.17H297.34V421.07H295.99ZM297.29 409.77H298.64V421.07H297.29ZM298.59 409.77H299.94V421.07H298.59ZM299.89 409.77H301.24V421.07H299.89ZM301.19 409.77H302.55V421.07H301.19ZM302.5 409.77H303.85V421.07H302.5ZM303.8 409.77H305.15V423.68H303.8ZM305.1 412.38H306.45V423.68H305.1ZM306.4 412.38H307.75V423.68H306.4ZM307.7 412.38H309.06V423.68H307.7ZM309.01 412.38H310.36V425.63H309.01ZM310.31 412.38H311.66V423.68H310.31ZM311.61 412.38H312.96V423.68H311.61ZM312.91 414.98H314.26V426.28H312.91ZM314.21 414.98H315.57V426.28H314.21ZM315.52 414.98H316.87V426.28H315.52ZM316.82 414.98H318.17V426.28H316.82ZM318.12 414.98H319.47V426.28H318.12ZM319.42 414.98H320.77V426.28H319.42ZM320.72 414.98H322.08V426.28H320.72ZM322.03 417.59H323.38V428.89H322.03ZM323.33 417.59H324.68V428.89H323.33ZM324.63 417.59H325.98V428.89H324.63ZM325.93 417.59H327.28V428.89H325.93ZM327.23 417.59H328.59V428.89H327.23ZM328.54 415.63H329.89V428.89H328.54ZM329.84 417.59H331.19V428.89H329.84ZM331.14 417.59H332.49V431.49H331.14ZM332.44 420.19H333.79V431.49H332.44ZM333.74 420.19H335.1V431.49H333.74ZM335.05 420.19H336.4V431.49H335.05ZM336.35 420.19H337.7V431.49H336.35ZM337.65 420.19H339V431.49H337.65ZM338.95 420.19H340.3V431.49H338.95ZM340.25 420.19H341.61V431.49H340.25ZM341.56 420.19H342.91V434.1H341.56ZM342.86 422.8H344.21V434.1H342.86ZM344.16 422.8H345.51V434.1H344.16ZM345.46 422.8H346.81V436.05H345.46ZM346.76 420.84H348.12V434.1H346.76ZM348.07 422.8H349.42V434.1H348.07ZM349.37 422.8H350.72V434.1H349.37ZM350.67 420.84H352.02V434.1H350.67ZM351.97 422.8H353.32V436.05H351.97ZM353.27 420.84H354.63V436.7H353.27ZM354.58 425.4H355.93V436.7H354.58ZM355.88 425.4H357.23V436.7H355.88ZM357.18 425.4H358.53V436.7H357.18ZM358.48 423.45H359.83V436.7H358.48ZM359.78 425.4H361.14V436.7H359.78ZM361.09 425.4H362.44V436.7H361.09ZM362.39 425.4H363.74V438.65H362.39ZM363.69 425.4H365.04V436.7H363.69ZM364.99 425.4H366.34V436.7H364.99ZM366.29 425.4H367.65V439.31H366.29ZM367.6 428.01H368.95V439.31H367.6ZM368.9 428.01H370.25V439.31H368.9ZM370.2 426.05H371.55V439.31H370.2ZM371.5 426.05H372.85V439.31H371.5ZM372.8 428.01H374.16V439.31H372.8ZM374.11 428.01H375.46V439.31H374.11ZM375.41 428.01H376.76V439.31H375.41ZM376.71 428.01H378.06V439.31H376.71ZM378.01 426.05H379.36V439.31H378.01ZM379.31 428.01H380.67V439.31H379.31ZM380.62 428.01H381.97V441.91H380.62ZM381.92 430.61H383.27V441.91H381.92ZM383.22 430.61H384.57V441.91H383.22ZM384.52 430.61H385.87V441.91H384.52ZM385.82 430.61H387.18V441.91H385.82ZM387.13 430.61H388.48V441.91H387.13ZM388.43 430.61H389.78V441.91H388.43ZM389.73 430.61H391.08V441.91H389.73ZM391.03 428.66H392.38V441.91H391.03ZM392.33 430.61H393.69V441.91H392.33ZM393.64 430.61H394.99V441.91H393.64ZM394.94 430.61H396.29V441.91H394.94ZM396.24 430.61H397.59V441.91H396.24ZM397.54 428.66H398.89V444.52H397.54ZM398.84 433.22H400.2V444.52H398.84ZM400.15 433.22H401.5V446.47H400.15ZM401.45 433.22H402.8V444.52H401.45ZM402.75 433.22H404.1V444.52H402.75ZM404.05 433.22H405.4V444.52H404.05ZM405.35 433.22H406.71V444.52H405.35ZM406.66 433.22H408.01V444.52H406.66ZM407.96 433.22H409.31V444.52H407.96ZM409.26 433.22H410.61V444.52H409.26ZM410.56 433.22H411.91V444.52H410.56ZM411.86 433.22H413.22V444.52H411.86ZM413.17 433.22H414.52V444.52H413.17ZM414.47 433.22H415.82V444.52H414.47ZM415.77 433.22H417.12V447.12H415.77ZM417.07 435.82H418.42V447.12H417.07ZM418.37 435.82H419.73V447.12H418.37ZM419.68 435.82H421.03V447.12H419.68ZM420.98 435.82H422.33V447.12H420.98ZM422.28 435.82H423.63V447.12H422.28ZM423.58 435.82H424.93V447.12H423.58ZM424.88 435.82H426.24V447.12H424.88ZM426.19 435.82H427.54V447.12H426.19ZM427.49 435.82H428.84V447.12H427.49ZM428.79 435.82H430.14V447.12H428.79ZM430.09 435.82H431.44V447.12H430.09ZM431.39 435.82H432.75V447.12H431.39ZM432.7 435.82H434.05V447.12H432.7ZM434 435.82H435.35V447.12H434ZM435.3 435.82H436.65V447.12H435.3ZM436.6 435.82H437.95V449.72H436.6ZM437.9 438.42H439.26V449.72H437.9ZM439.21 436.47H440.56V449.72H439.21ZM440.51 438.42H441.86V449.72H440.51ZM441.81 438.42H443.16V449.72H441.81ZM443.11 438.42H444.46V449.72H443.11ZM444.41 438.42H445.77V449.72H444.41ZM445.72 438.42H447.07V451.68H445.72ZM447.02 438.42H448.37V449.72H447.02ZM448.32 438.42H449.67V449.72H448.32ZM449.62 438.42H450.97V451.68H449.62ZM450.92 438.42H452.28V449.72H450.92ZM452.23 438.42H453.58V449.72H452.23ZM453.53 438.42H454.88V449.72H453.53ZM454.83 438.42H456.18V449.72H454.83ZM456.13 438.42H457.48V449.72H456.13ZM457.43 438.42H458.79V449.72H457.43ZM458.74 438.42H460.09V449.72H458.74ZM460.04 438.42H461.39V449.72H460.04ZM461.34 438.42H462.69V452.33H461.34ZM462.64 439.08H463.99V452.33H462.64ZM463.94 441.03H465.3V452.33H463.94ZM465.25 441.03H466.6V452.33H465.25ZM466.55 441.03H467.9V452.33H466.55ZM467.85 441.03H469.2V452.33H467.85ZM469.15 441.03H470.5V452.33H469.15ZM470.45 441.03H471.81V452.33H470.45ZM471.76 439.08H473.11V452.33H471.76ZM473.06 441.03H474.41V454.28H473.06ZM474.36 441.03H475.71V452.33H474.36ZM475.66 441.03H477.01V452.33H475.66ZM476.96 441.03H478.32V452.33H476.96ZM478.27 441.03H479.62V452.33H478.27ZM479.57 441.03H480.92V452.33H479.57ZM480.87 441.03H482.22V454.28H480.87ZM482.17 441.03H483.52V452.33H482.17ZM483.47 441.03H484.83V452.33H483.47ZM484.78 441.03H486.13V452.33H484.78ZM486.08 441.03H487.43V452.33H486.08ZM487.38 439.08H488.73V452.33H487.38ZM488.68 439.08H490.03V452.33H488.68ZM489.98 441.03H491.34V452.33H489.98ZM491.29 441.03H492.64V454.93H491.29ZM492.59 443.63H493.94V454.93H492.59ZM493.89 443.63H495.24V454.93H493.89ZM495.19 443.63H496.54V454.93H495.19ZM496.49 441.68H497.85V454.93H496.49ZM497.8 443.63H499.15V454.93H497.8ZM499.1 443.63H500.45V454.93H499.1ZM500.4 443.63H501.75V454.93H500.4ZM501.7 443.63H503.05V456.89H501.7ZM503 443.63H504.36V454.93H503ZM504.31 441.68H505.66V454.93H504.31ZM505.61 443.63H506.96V454.93H505.61ZM506.91 443.63H508.26V456.89H506.91ZM508.21 443.63H509.56V454.93H508.21ZM509.51 443.63H510.87V454.93H509.51ZM510.82 443.63H512.17V454.93H510.82ZM512.12 441.68H513.47V454.93H512.12ZM513.42 443.63H514.77V454.93H513.42ZM514.72 443.63H516.07V454.93H514.72ZM516.02 443.63H517.38V456.89H516.02ZM517.33 443.63H518.68V454.93H517.33ZM518.63 443.63H519.98V454.93H518.63ZM519.93 443.63H521.28V454.93H519.93ZM521.23 443.63H522.58V456.89H521.23ZM522.53 443.63H523.89V454.93H522.53ZM523.84 441.68H525.19V454.93H523.84ZM525.14 443.63H526.49V454.93H525.14ZM526.44 443.63H527.79V456.89H526.44ZM527.74 443.63H529.09V457.54H527.74ZM529.04 446.24H530.4V457.54H529.04ZM530.35 446.24H531.7V457.54H530.35ZM531.65 446.24H533V457.54H531.65ZM532.95 446.24H534.3V457.54H532.95ZM534.25 446.24H535.6V457.54H534.25ZM535.55 446.24H536.91V457.54H535.55ZM536.86 446.24H538.21V457.54H536.86ZM538.16 446.24H539.51V457.54H538.16ZM539.46 446.24H540.81V457.54H539.46ZM540.76 444.29H542.11V457.54H540.76ZM542.06 446.24H543.42V457.54H542.06ZM543.37 446.24H544.72V457.54H543.37ZM544.67 446.24H546.02V457.54H544.67ZM545.97 446.24H547.32V457.54H545.97ZM547.27 446.24H548.62V457.54H547.27ZM548.57 446.24H549.93V457.54H548.57ZM549.88 446.24H551.23V459.49H549.88ZM551.18 446.24H552.53V457.54H551.18ZM552.48 446.24H553.83V457.54H552.48ZM553.78 446.24H555.13V457.54H553.78ZM555.08 446.24H556.44V457.54H555.08ZM556.39 446.24H557.74V457.54H556.39ZM557.69 446.24H559.04V457.54H557.69ZM558.99 446.24H560.34V457.54H558.99ZM560.29 446.24H561.64V457.54H560.29ZM561.59 446.24H562.95V457.54H561.59ZM562.9 446.24H564.25V457.54H562.9ZM564.2 446.24H565.55V457.54H564.2ZM565.5 446.24H566.85V457.54H565.5ZM566.8 446.24H568.15V457.54H566.8ZM568.1 446.24H569.46V457.54H568.1ZM569.41 446.24H570.76V457.54H569.41ZM570.71 446.24H572.06V457.54H570.71ZM572.01 446.24H573.36V457.54H572.01ZM573.31 446.24H574.66V457.54H573.31ZM574.61 446.24H575.97V457.54H574.61ZM575.92 446.24H577.27V460.14H575.92ZM577.22 448.84H578.57V460.14H577.22ZM578.52 448.84H579.87V460.14H578.52ZM579.82 448.84H581.17V460.14H579.82ZM581.12 448.84H582.48V460.14H581.12ZM582.43 448.84H583.78V460.14H582.43ZM583.73 448.84H585.08V460.14H583.73ZM585.03 448.84H586.38V462.1H585.03ZM586.33 448.84H587.68V460.14H586.33ZM587.63 448.84H588.99V460.14H587.63ZM588.94 448.84H590.29V460.14H588.94ZM590.24 448.84H591.59V460.14H590.24ZM591.54 448.84H592.89V460.14H591.54ZM592.84 448.84H594.19V460.14H592.84ZM594.14 448.84H595.5V460.14H594.14ZM595.45 446.89H596.8V462.1H595.45ZM596.75 446.89H598.1V460.14H596.75ZM598.05 448.84H599.4V462.1H598.05ZM599.35 448.84H600.7V460.14H599.35ZM600.65 448.84H602.01V460.14H600.65ZM601.96 448.84H603.31V460.14H601.96ZM603.26 448.84H604.61V460.14H603.26ZM604.56 448.84H605.91V460.14H604.56ZM605.86 448.84H607.21V460.14H605.86ZM607.16 448.84H608.52V460.14H607.16ZM608.47 448.84H609.82V460.14H608.47ZM609.77 448.84H611.12V460.14H609.77ZM611.07 448.84H612.42V460.14H611.07ZM612.37 448.84H613.72V460.14H612.37ZM613.67 448.84H615.03V460.14H613.67ZM614.98 448.84H616.33V460.14H614.98ZM616.28 448.84H617.63V460.14H616.28ZM617.58 448.84H618.93V460.14H617.58ZM618.88 448.84H620.23V460.14H618.88ZM620.18 448.84H621.54V460.14H620.18ZM621.49 448.84H622.84V460.14H621.49ZM622.79 448.84H624.14V460.14H622.79ZM624.09 448.84H625.44V460.14H624.09ZM625.39 448.84H626.74V460.14H625.39ZM626.69 448.84H628.05V460.14H626.69ZM628 448.84H629.35V462.1H628ZM629.3 446.89H630.65V460.14H629.3ZM630.6 448.84H631.95V460.14H630.6ZM631.9 448.84H633.25V460.14H631.9ZM633.2 446.89H634.56V460.14H633.2ZM634.51 448.84H635.86V460.14H634.51ZM635.81 448.84H637.16V460.14H635.81ZM637.11 448.84H638.46V460.14H637.11ZM638.41 448.84H639.76V460.14H638.41ZM639.71 448.84H641.07V460.14H639.71ZM641.02 446.89H642.37V460.14H641.02ZM642.32 448.84H643.67V462.1H642.32ZM643.62 448.84H644.97V460.14H643.62ZM644.92 448.84H646.27V460.14H644.92ZM646.22 446.89H647.58V460.14H646.22ZM647.53 448.84H648.88V460.14H647.53ZM648.83 448.84H650.18V460.14H648.83ZM650.13 448.84H651.48V462.75H650.13ZM651.43 449.5H652.78V462.75H651.43ZM652.73 451.45H654.09V462.75H652.73ZM654.04 451.45H655.39V462.75H654.04ZM655.34 451.45H656.69V462.75H655.34ZM656.64 451.45H657.99V462.75H656.64ZM657.94 451.45H659.29V462.75H657.94ZM659.24 449.5H660.6V462.75H659.24ZM660.55 449.5H661.9V462.75H660.55ZM661.85 451.45H663.2V462.75H661.85ZM663.15 451.45H664.05V462.75H663.15Z" fill="#008000"/>
<path d="M12.15 63.2H13.5V70.2H12.15ZM13.45 63.2H14.8V72.8H13.45ZM14.75 63.2H16.11V72.8H14.75ZM16.06 63.2H17.41V70.2H16.06ZM17.36 63.2H18.71V72.8H17.36ZM18.66 63.2H20.01V72.8H18.66ZM19.96 63.2H21.31V72.8H19.96ZM21.26 63.2H22.62V70.2H21.26ZM22.57 63.2H23.92V70.2H22.57ZM23.87 63.2H25.22V72.8H23.87ZM25.17 60.6H26.52V72.8H25.17ZM26.47 63.2H27.82V72.8H26.47ZM27.77 63.2H29.13V72.8H27.77ZM29.08 60.6H30.43V72.8H29.08ZM30.38 63.2H31.73V72.8H30.38ZM31.68 63.2H33.03V72.8H31.68ZM32.98 63.2H34.33V72.8H32.98ZM34.28 63.2H35.64V72.8H34.28ZM35.59 63.2H36.94V70.2H35.59ZM36.89 63.2H38.24V72.8H36.89ZM38.19 63.2H39.54V70.2H38.19ZM39.49 63.2H40.84V72.8H39.49ZM40.79 63.2H42.15V70.2H40.79ZM42.1 63.2H43.45V72.8H42.1ZM43.4 63.2H44.75V70.2H43.4ZM44.7 63.2H46.05V70.2H44.7ZM46 63.2H47.35V70.2H46ZM47.3 63.2H48.66V70.2H47.3ZM48.61 63.2H49.96V72.8H48.61ZM49.91 63.2H51.26V72.8H49.91ZM51.21 63.2H52.56V72.8H51.21ZM52.51 63.2H53.86V70.2H52.51ZM53.81 63.2H55.17V72.8H53.81ZM55.12 63.2H56.47V70.2H55.12ZM56.42 63.2H57.77V72.8H56.42ZM57.72 63.2H59.07V72.8H57.72ZM59.02 63.2H60.37V70.2H59.02ZM60.32 63.2H61.68V70.2H60.32ZM61.63 63.2H62.98V72.8H61.63ZM62.93 63.2H64.28V70.2H62.93ZM64.23 63.2H65.58V72.8H64.23ZM65.53 63.2H66.88V72.8H65.53ZM66.83 63.2H68.19V70.2H66.83ZM68.14 63.2H69.49V72.8H68.14ZM69.44 63.2H70.79V72.8H69.44ZM70.74 63.2H72.09V72.8H70.74ZM72.04 63.2H73.39V70.2H72.04ZM73.34 63.2H74.7V70.2H73.34ZM74.65 63.2H76V72.8H74.65ZM75.95 63.2H77.3V72.8H75.95ZM77.25 63.2H78.6V70.2H77.25ZM78.55 63.2H79.9V72.8H78.55ZM79.85 63.2H81.21V72.8H79.85ZM81.16 63.2H82.51V72.8H81.16ZM82.46 63.2H83.81V70.2H82.46ZM83.76 63.2H85.11V72.8H83.76ZM85.06 60.6H86.41V72.8H85.06ZM86.36 63.2H87.72V70.2H86.36ZM87.67 63.2H89.02V70.2H87.67ZM88.97 63.2H90.32V70.2H88.97ZM90.27 63.2H91.62V70.2H90.27ZM91.57 63.2H92.92V72.8H91.57ZM92.87 60.6H94.23V72.8H92.87ZM94.18 63.2H95.53V72.8H94.18ZM95.48 63.2H96.83V70.2H95.48ZM96.78 63.2H98.13V72.8H96.78ZM98.08 63.2H99.43V72.8H98.08ZM99.38 63.2H100.74V72.8H99.38ZM100.69 63.2H102.04V72.8H100.69ZM101.99 63.2H103.34V72.8H101.99ZM103.29 60.6H104.64V72.8H103.29ZM104.59 63.2H105.94V72.8H104.59ZM105.89 63.2H107.25V70.2H105.89ZM107.2 63.2H108.55V72.8H107.2ZM108.5 63.2H109.85V70.2H108.5ZM109.8 60.6H111.15V72.8H109.8ZM111.1 63.2H112.45V70.2H111.1ZM112.4 63.2H113.76V70.2H112.4ZM113.71 63.2H115.06V72.8H113.71ZM115.01 63.2H116.36V70.2H115.01ZM116.31 63.2H117.66V72.8H116.31ZM117.61 63.2H118.96V70.2H117.61ZM118.91 63.2H120.27V70.2H118.91ZM120.22 63.2H121.57V70.2H120.22ZM121.52 63.2H122.87V72.8H121.52ZM122.82 63.2H124.17V70.2H122.82ZM124.12 63.2H125.47V70.2H124.12ZM125.42 63.2H126.78V70.2H125.42ZM126.73 63.2H128.08V72.8H126.73ZM128.03 63.2H129.38V72.8H128.03ZM129.33 63.2H130.68V72.8H129.33ZM130.63 63.2H131.98V70.2H130.63ZM131.93 63.2H133.29V72.8H131.93ZM133.24 63.2H134.59V70.2H133.24ZM134.54 63.2H135.89V72.8H134.54ZM135.84 63.2H137.19V72.8H135.84ZM137.14 63.2H138.49V70.2H137.14ZM138.44 63.2H139.8V72.8H138.44ZM139.75 63.2H141.1V70.2H139.75ZM141.05 63.2H142.4V72.8H141.05ZM142.35 63.2H143.7V70.2H142.35ZM143.65 63.2H145V72.8H143.65ZM144.95 66.04H146.31V85.66H144.95ZM146.26 79.06H147.61V96.08H146.26ZM147.56 89.48H148.91V106.5H147.56ZM148.86 99.9H150.21V116.92H148.86ZM150.16 110.32H151.51V124.73H150.16ZM151.46 118.13H152.82V132.54H151.46ZM152.77 125.95H154.12V140.36H152.77ZM154.07 133.76H155.42V148.17H154.07ZM155.37 141.58H156.72V155.99H155.37ZM156.67 149.39H158.02V163.8H156.67ZM157.97 154.6H159.33V169.01H157.97ZM159.28 162.42H160.63V176.83H159.28ZM160.58 167.63H161.93V182.04H160.58ZM161.88 175.44H163.23V187.24H161.88ZM163.18 180.65H164.53V195.06H163.18ZM164.48 185.86H165.84V200.27H164.48ZM165.79 191.07H167.14V207.43H165.79ZM167.09 196.28H168.44V210.69H167.09ZM168.39 201.49H169.74V215.9H168.39ZM169.69 206.7H171.04V221.11H169.69ZM170.99 211.91H172.35V226.32H170.99ZM172.3 217.12H173.65V228.92H172.3ZM173.6 222.33H174.95V234.13H173.6ZM174.9 224.93H176.25V239.34H174.9ZM176.2 230.14H177.55V241.95H176.2ZM177.5 232.75H178.86V247.16H177.5ZM178.81 237.96H180.16V251.71H178.81ZM180.11 240.56H181.46V256.92H180.11ZM181.41 245.77H182.76V257.57H181.41ZM182.71 247.07H184.06V260.18H182.71ZM184.01 253.58H185.37V265.39H184.01ZM185.32 256.19H186.67V267.99H185.32ZM186.62 258.79H187.97V270.6H186.62ZM187.92 261.4H189.27V273.2H187.92ZM189.22 264H190.57V275.81H189.22ZM190.52 269.21H191.88V278.41H190.52ZM191.83 271.82H193.18V283.62H191.83ZM193.13 274.42H194.48V286.23H193.13ZM194.43 275.73H195.78V290.79H194.43ZM195.73 279.63H197.08V291.44H195.73ZM197.03 282.24H198.39V294.04H197.03ZM198.34 284.84H199.69V298.6H198.34ZM199.64 287.45H200.99V299.25H199.64ZM200.94 290.05H202.29V301.2H200.94ZM202.24 292.66H203.59V301.86H202.24ZM203.54 295.26H204.9V304.46H203.54ZM204.85 295.26H206.2V307.07H204.85ZM206.15 297.87H207.5V309.67H206.15ZM207.45 300.47H208.8V312.28H207.45ZM208.75 303.08H210.1V312.28H208.75ZM210.05 305.68H211.41V314.88H210.05ZM211.36 305.68H212.71V317.48H211.36ZM212.66 308.28H214.01V320.09H212.66ZM213.96 310.89H215.31V320.09H213.96ZM215.26 313.49H216.61V322.69H215.26ZM216.56 313.49H217.92V325.3H216.56ZM217.87 316.1H219.22V327.9H217.87ZM219.17 318.7H220.52V327.9H219.17ZM220.47 318.7H221.82V332.46H220.47ZM221.77 321.31H223.12V335.07H221.77ZM223.07 323.91H224.43V335.07H223.07ZM224.38 323.91H225.73V335.72H224.38ZM225.68 326.52H227.03V335.72H225.68ZM226.98 329.12H228.33V338.32H226.98ZM228.28 329.12H229.63V340.93H228.28ZM229.58 331.73H230.94V342.88H229.58ZM230.89 331.73H232.24V343.53H230.89ZM232.19 334.33H233.54V343.53H232.19ZM233.49 334.33H234.84V346.14H233.49ZM234.79 336.94H236.14V346.14H234.79ZM236.09 339.54H237.45V348.74H236.09ZM237.4 339.54H238.75V348.74H237.4ZM238.7 342.15H240.05V353.3H238.7ZM240 342.15H241.35V353.95H240ZM241.3 344.75H242.65V353.95H241.3ZM242.6 344.75H243.96V356.56H242.6ZM243.91 347.36H245.26V356.56H243.91ZM245.21 347.36H246.56V356.56H245.21ZM246.51 349.96H247.86V359.16H246.51ZM247.81 349.96H249.16V361.11H247.81ZM249.11 349.96H250.47V361.77H249.11ZM250.42 352.57H251.77V361.77H250.42ZM251.72 352.57H253.07V364.37H251.72ZM253.02 355.17H254.37V364.37H253.02ZM254.32 355.17H255.67V368.93H254.32ZM255.62 357.78H256.98V366.98H255.62ZM256.93 357.78H258.28V368.93H256.93ZM258.23 357.78H259.58V369.58H258.23ZM259.53 360.38H260.88V369.58H259.53ZM260.83 360.38H262.18V372.19H260.83ZM262.13 362.99H263.49V372.19H262.13ZM263.44 362.99H264.79V374.14H263.44ZM264.74 362.99H266.09V374.79H264.74ZM266.04 365.59H267.39V374.79H266.04ZM267.34 365.59H268.69V374.79H267.34ZM268.64 368.2H270V377.4H268.64ZM269.95 368.2H271.3V377.4H269.95ZM271.25 368.2H272.6V380H271.25ZM272.55 370.8H273.9V380H272.55ZM273.85 370.8H275.2V380H273.85ZM275.15 369.5H276.51V384.56H275.15ZM276.46 373.4H277.81V382.6H276.46ZM277.76 373.4H279.11V382.6H277.76ZM279.06 373.4H280.41V385.21H279.06ZM280.36 376.01H281.71V385.21H280.36ZM281.66 376.01H283.02V385.21H281.66ZM282.97 376.01H284.32V385.21H282.97ZM284.27 378.61H285.62V387.81H284.27ZM285.57 378.61H286.92V387.81H285.57ZM286.87 378.61H288.22V387.81H286.87ZM288.17 378.61H289.53V390.42H288.17ZM289.48 381.22H290.83V392.37H289.48ZM290.78 381.22H292.13V390.42H290.78ZM292.08 381.22H293.43V393.02H292.08ZM293.38 383.82H294.73V393.02H293.38ZM294.68 382.52H296.04V393.02H294.68ZM295.99 383.82H297.34V393.02H295.99ZM297.29 383.82H298.64V395.63H297.29ZM298.59 386.43H299.94V395.63H298.59ZM299.89 386.43H301.24V395.63H299.89ZM301.19 386.43H302.55V395.63H301.19ZM302.5 386.43H303.85V398.23H302.5ZM303.8 389.03H305.15V398.23H303.8ZM305.1 389.03H306.45V398.23H305.1ZM306.4 389.03H307.75V398.23H306.4ZM307.7 389.03H309.06V400.84H307.7ZM309.01 391.64H310.36V402.79H309.01ZM310.31 391.64H311.66V400.84H310.31ZM311.61 391.64H312.96V400.84H311.61ZM312.91 391.64H314.26V403.44H312.91ZM314.21 392.94H315.57V403.44H314.21ZM315.52 394.24H316.87V405.4H315.52ZM316.82 394.24H318.17V403.44H316.82ZM318.12 394.24H319.47V403.44H318.12ZM319.42 396.85H320.77V406.05H319.42ZM320.72 396.85H322.08V406.05H320.72ZM322.03 396.85H323.38V406.05H322.03ZM323.33 396.85H324.68V406.05H323.33ZM324.63 396.85H325.98V408.65H324.63ZM325.93 399.45H327.28V408.65H325.93ZM327.23 399.45H328.59V408.65H327.23ZM328.54 399.45H329.89V408.65H328.54ZM329.84 399.45H331.19V408.65H329.84ZM331.14 399.45H332.49V411.26H331.14ZM332.44 402.06H333.79V411.26H332.44ZM333.74 402.06H335.1V411.26H333.74ZM335.05 402.06H336.4V411.26H335.05ZM336.35 402.06H337.7V411.26H336.35ZM337.65 402.06H339V413.86H337.65ZM338.95 404.66H340.3V415.82H338.95ZM340.25 404.66H341.61V413.86H340.25ZM341.56 404.66H342.91V413.86H341.56ZM342.86 404.66H344.21V413.86H342.86ZM344.16 404.66H345.51V413.86H344.16ZM345.46 404.66H346.81V416.47H345.46ZM346.76 405.97H348.12V416.47H346.76ZM348.07 407.27H349.42V416.47H348.07ZM349.37 407.27H350.72V416.47H349.37ZM350.67 407.27H352.02V416.47H350.67ZM351.97 407.27H353.32V416.47H351.97ZM353.27 407.27H354.63V419.07H353.27ZM354.58 409.87H355.93V419.07H354.58ZM355.88 409.87H357.23V419.07H355.88ZM357.18 409.87H358.53V421.03H357.18ZM358.48 409.87H359.83V419.07H358.48ZM359.78 409.87H361.14V419.07H359.78ZM361.09 409.87H362.44V421.68H361.09ZM362.39 412.48H363.74V421.68H362.39ZM363.69 412.48H365.04V421.68H363.69ZM364.99 412.48H366.34V421.68H364.99ZM366.29 412.48H367.65V421.68H366.29ZM367.6 412.48H368.95V421.68H367.6ZM368.9 412.48H370.25V421.68H368.9ZM370.2 415.08H371.55V424.28H370.2ZM371.5 415.08H372.85V424.28H371.5ZM372.8 415.08H374.16V424.28H372.8ZM374.11 415.08H375.46V424.28H374.11ZM375.41 415.08H376.76V424.28H375.41ZM376.71 415.08H378.06V424.28H376.71ZM378.01 415.08H379.36V426.23H378.01ZM379.31 415.08H380.67V426.89H379.31ZM380.62 417.69H381.97V426.89H380.62ZM381.92 417.69H383.27V428.84H381.92ZM383.22 417.69H384.57V426.89H383.22ZM384.52 417.69H385.87V426.89H384.52ZM385.82 417.69H387.18V426.89H385.82ZM387.13 417.69H388.48V426.89H387.13ZM388.43 417.69H389.78V426.89H388.43ZM389.73 420.29H391.08V429.49H389.73ZM391.03 420.29H392.38V429.49H391.03ZM392.33 420.29H393.69V429.49H392.33ZM393.64 420.29H394.99V429.49H393.64ZM394.94 420.29H396.29V429.49H394.94ZM396.24 420.29H397.59V429.49H396.24ZM397.54 420.29H398.89V429.49H397.54ZM398.84 420.29H400.2V429.49H398.84ZM400.15 420.29H401.5V432.1H400.15ZM401.45 422.9H402.8V432.1H401.45ZM402.75 422.9H404.1V432.1H402.75ZM404.05 421.59H405.4V432.1H404.05ZM405.35 422.9H406.71V432.1H405.35ZM406.66 422.9H408.01V432.1H406.66ZM407.96 422.9H409.31V432.1H407.96ZM409.26 422.9H410.61V432.1H409.26ZM410.56 422.9H411.91V432.1H410.56ZM411.86 422.9H413.22V434.7H411.86ZM413.17 425.5H414.52V434.7H413.17ZM414.47 425.5H415.82V434.7H414.47ZM415.77 425.5H417.12V434.7H415.77ZM417.07 425.5H418.42V434.7H417.07ZM418.37 425.5H419.73V434.7H418.37ZM419.68 425.5H421.03V434.7H419.68ZM420.98 425.5H422.33V434.7H420.98ZM422.28 425.5H423.63V436.65H422.28ZM423.58 425.5H424.93V436.65H423.58ZM424.88 425.5H426.24V437.31H424.88ZM426.19 428.11H427.54V439.26H426.19ZM427.49 428.11H428.84V437.31H427.49ZM428.79 428.11H430.14V437.31H428.79ZM430.09 428.11H431.44V437.31H430.09ZM431.39 428.11H432.75V437.31H431.39ZM432.7 428.11H434.05V437.31H432.7ZM434 428.11H435.35V437.31H434ZM435.3 428.11H436.65V437.31H435.3ZM436.6 428.11H437.95V437.31H436.6ZM437.9 428.11H439.26V437.31H437.9ZM439.21 428.11H440.56V439.91H439.21ZM440.51 430.71H441.86V439.91H440.51ZM441.81 430.71H443.16V441.86H441.81ZM443.11 430.71H444.46V439.91H443.11ZM444.41 430.71H445.77V439.91H444.41ZM445.72 430.71H447.07V439.91H445.72ZM447.02 430.71H448.37V439.91H447.02ZM448.32 430.71H449.67V439.91H448.32ZM449.62 430.71H450.97V441.86H449.62ZM450.92 430.71H452.28V439.91H450.92ZM452.23 430.71H453.58V439.91H452.23ZM453.53 430.71H454.88V439.91H453.53ZM454.83 430.71H456.18V439.91H454.83ZM456.13 429.41H457.48V444.47H456.13ZM457.43 433.32H458.79V444.47H457.43ZM458.74 433.32H460.09V444.47H458.74ZM460.04 433.32H461.39V444.47H460.04ZM461.34 433.32H462.69V442.52H461.34ZM462.64 433.32H463.99V442.52H462.64ZM463.94 433.32H465.3V442.52H463.94ZM465.25 433.32H466.6V442.52H465.25ZM466.55 433.32H467.9V442.52H466.55ZM467.85 433.32H469.2V442.52H467.85ZM469.15 433.32H470.5V442.52H469.15ZM470.45 433.32H471.81V442.52H470.45ZM471.76 433.32H473.11V444.47H471.76ZM473.06 433.32H474.41V442.52H473.06ZM474.36 433.32H475.71V445.12H474.36ZM475.66 435.92H477.01V445.12H475.66ZM476.96 435.92H478.32V445.12H476.96ZM478.27 435.92H479.62V445.12H478.27ZM479.57 435.92H480.92V445.12H479.57ZM480.87 435.92H482.22V445.12H480.87ZM482.17 435.92H483.52V445.12H482.17ZM483.47 435.92H484.83V447.07H483.47ZM484.78 435.92H486.13V445.12H484.78ZM486.08 435.92H487.43V445.12H486.08ZM487.38 434.62H488.73V445.12H487.38ZM488.68 435.92H490.03V445.12H488.68ZM489.98 435.92H491.34V445.12H489.98ZM491.29 435.92H492.64V447.07H491.29ZM492.59 435.92H493.94V447.07H492.59ZM493.89 435.92H495.24V447.07H493.89ZM495.19 434.62H496.54V447.72H495.19ZM496.49 438.52H497.85V447.72H496.49ZM497.8 438.52H499.15V447.72H497.8ZM499.1 438.52H500.45V447.72H499.1ZM500.4 438.52H501.75V447.72H500.4ZM501.7 438.52H503.05V447.72H501.7ZM503 438.52H504.36V447.72H503ZM504.31 438.52H505.66V447.72H504.31ZM505.61 438.52H506.96V449.68H505.61ZM506.91 438.52H508.26V447.72H506.91ZM508.21 438.52H509.56V447.72H508.21ZM509.51 438.52H510.87V447.72H509.51ZM510.82 438.52H512.17V447.72H510.82ZM512.12 438.52H513.47V447.72H512.12ZM513.42 438.52H514.77V447.72H513.42ZM514.72 438.52H516.07V449.68H514.72ZM516.02 438.52H517.38V447.72H516.02ZM517.33 437.22H518.68V447.72H517.33ZM518.63 438.52H519.98V447.72H518.63ZM519.93 438.52H521.28V450.33H519.93ZM521.23 441.13H522.58V450.33H521.23ZM522.53 441.13H523.89V450.33H522.53ZM523.84 441.13H525.19V450.33H523.84ZM525.14 441.13H526.49V450.33H525.14ZM526.44 441.13H527.79V450.33H526.44ZM527.74 441.13H529.09V450.33H527.74ZM529.04 441.13H530.4V450.33H529.04ZM530.35 441.13H531.7V450.33H530.35ZM531.65 441.13H533V450.33H531.65ZM532.95 441.13H534.3V450.33H532.95ZM534.25 441.13H535.6V450.33H534.25ZM535.55 441.13H536.91V450.33H535.55ZM536.86 441.13H538.21V450.33H536.86ZM538.16 441.13H539.51V450.33H538.16ZM539.46 441.13H540.81V450.33H539.46ZM540.76 441.13H542.11V450.33H540.76ZM542.06 441.13H543.42V450.33H542.06ZM543.37 441.13H544.72V450.33H543.37ZM544.67 441.13H546.02V450.33H544.67ZM545.97 441.13H547.32V450.33H545.97ZM547.27 441.13H548.62V452.28H547.27ZM548.57 441.13H549.93V450.33H548.57ZM549.88 441.13H551.23V450.33H549.88ZM551.18 441.13H552.53V452.93H551.18ZM552.48 443.73H553.83V454.89H552.48ZM553.78 443.73H555.13V452.93H553.78ZM555.08 443.73H556.44V452.93H555.08ZM556.39 442.43H557.74V452.93H556.39ZM557.69 443.73H559.04V452.93H557.69ZM558.99 443.73H560.34V452.93H558.99ZM560.29 443.73H561.64V452.93H560.29ZM561.59 443.73H562.95V452.93H561.59ZM562.9 443.73H564.25V452.93H562.9ZM564.2 443.73H565.55V452.93H564.2ZM565.5 443.73H566.85V452.93H565.5ZM566.8 443.73H568.15V452.93H566.8ZM568.1 443.73H569.46V452.93H568.1ZM569.41 443.73H570.76V452.93H569.41ZM570.71 443.73H572.06V452.93H570.71ZM572.01 443.73H573.36V452.93H572.01ZM573.31 443.73H574.66V454.89H573.31ZM574.61 443.73H575.97V452.93H574.61ZM575.92 443.73H577.27V452.93H575.92ZM577.22 443.73H578.57V454.89H577.22ZM578.52 443.73H579.87V452.93H578.52ZM579.82 443.73H581.17V452.93H579.82ZM581.12 443.73H582.48V452.93H581.12ZM582.43 443.73H583.78V452.93H582.43ZM583.73 443.73H585.08V452.93H583.73ZM585.03 443.73H586.38V452.93H585.03ZM586.33 443.73H587.68V452.93H586.33ZM587.63 443.73H588.99V452.93H587.63ZM588.94 443.73H590.29V452.93H588.94ZM590.24 443.73H591.59V452.93H590.24ZM591.54 443.73H592.89V455.54H591.54ZM592.84 446.34H594.19V455.54H592.84ZM594.14 446.34H595.5V455.54H594.14ZM595.45 446.34H596.8V455.54H595.45ZM596.75 446.34H598.1V455.54H596.75ZM598.05 446.34H599.4V455.54H598.05ZM599.35 446.34H600.7V455.54H599.35ZM600.65 446.34H602.01V455.54H600.65ZM601.96 446.34H603.31V455.54H601.96ZM603.26 446.34H604.61V455.54H603.26ZM604.56 446.34H605.91V457.49H604.56ZM605.86 446.34H607.21V455.54H605.86ZM607.16 445.04H608.52V455.54H607.16ZM608.47 446.34H609.82V455.54H608.47ZM609.77 446.34H611.12V455.54H609.77ZM611.07 446.34H612.42V455.54H611.07ZM612.37 446.34H613.72V455.54H612.37ZM613.67 446.34H615.03V455.54H613.67ZM614.98 446.34H616.33V455.54H614.98ZM616.28 446.34H617.63V455.54H616.28ZM617.58 446.34H618.93V455.54H617.58ZM618.88 446.34H620.23V455.54H618.88ZM620.18 446.34H621.54V455.54H620.18ZM621.49 445.04H622.84V455.54H621.49ZM622.79 446.34H624.14V455.54H622.79ZM624.09 446.34H625.44V455.54H624.09ZM625.39 446.34H626.74V457.49H625.39ZM626.69 446.34H628.05V455.54H626.69ZM628 446.34H629.35V455.54H628ZM629.3 446.34H630.65V455.54H629.3ZM630.6 446.34H631.95V457.49H630.6ZM631.9 446.34H633.25V455.54H631.9ZM633.2 446.34H634.56V457.49H633.2ZM634.51 446.34H635.86V455.54H634.51ZM635.81 446.34H637.16V455.54H635.81ZM637.11 446.34H638.46V455.54H637.11ZM638.41 446.34H639.76V457.49H638.41ZM639.71 446.34H641.07V455.54H639.71ZM641.02 446.34H642.37V455.54H641.02ZM642.32 446.34H643.67V457.49H642.32ZM643.62 446.34H644.97V457.49H643.62ZM644.92 446.34H646.27V455.54H644.92ZM646.22 446.34H647.58V455.54H646.22ZM647.53 446.34H648.88V455.54H647.53ZM648.83 446.34H650.18V455.54H648.83ZM650.13 446.34H651.48V455.54H650.13ZM651.43 446.34H652.78V455.54H651.43ZM652.73 446.34H654.09V455.54H652.73ZM654.04 446.34H655.39V457.49H654.04ZM655.34 446.34H656.69V455.54H655.34ZM656.64 446.34H657.99V458.14H656.64ZM657.94 448.94H659.29V458.14H657.94ZM659.24 448.94H660.6V458.14H659.24ZM660.55 448.94H661.9V458.14H660.55ZM661.85 448.94H663.2V458.14H661.85ZM663.15 448.94H664.05V458.14H663.15Z" fill="#0846b8"/>
<path d="M12.15 355H13.5V364.1H12.15ZM13.45 355H14.8V364.1H13.45ZM14.75 355H16.11V364.1H14.75ZM16.06 355H17.41V364.1H16.06ZM17.36 355H18.71V364.1H17.36ZM18.66 355H20.01V364.1H18.66ZM19.96 355H21.31V364.1H19.96ZM21.26 355H22.62V364.1H21.26ZM22.57 355H23.92V364.1H22.57ZM23.87 355H25.22V364.1H23.87ZM25.17 355H26.52V364.1H25.17ZM26.47 355H27.82V364.1H26.47ZM27.77 355H29.13V364.1H27.77ZM29.08 355H30.43V364.1H29.08ZM30.38 355H31.73V364.1H30.38ZM31.68 355H33.03V364.1H31.68ZM32.98 355H34.33V364.1H32.98ZM34.28 355H35.64V364.1H34.28ZM35.59 355H36.94V364.1H35.59ZM36.89 355H38.24V364.1H36.89ZM38.19 355H39.54V364.1H38.19ZM39.49 355H40.84V364.1H39.49ZM40.79 355H42.15V364.1H40.79ZM42.1 355H43.45V366.7H42.1ZM43.4 352.4H44.75V364.1H43.4ZM44.7 355H46.05V364.1H44.7ZM46 355H47.35V364.1H46ZM47.3 355H48.66V364.1H47.3ZM48.61 355H49.96V364.1H48.61ZM49.91 355H51.26V364.1H49.91ZM51.21 355H52.56V364.1H51.21ZM52.51 355H53.86V364.1H52.51ZM53.81 355H55.17V364.1H53.81ZM55.12 355H56.47V364.1H55.12ZM56.42 355H57.77V364.1H56.42ZM57.72 355H59.07V364.1H57.72ZM59.02 355H60.37V364.1H59.02ZM60.32 352.4H61.68V364.1H60.32ZM61.63 355H62.98V364.1H61.63ZM62.93 355H64.28V364.1H62.93ZM64.23 352.4H65.58V364.1H64.23ZM65.53 355H66.88V364.1H65.53ZM66.83 355H68.19V364.1H66.83ZM68.14 355H69.49V364.1H68.14ZM69.44 355H70.79V364.1H69.44ZM70.74 355H72.09V364.1H70.74ZM72.04 355H73.39V364.1H72.04ZM73.34 355H74.7V366.7H73.34ZM74.65 352.4H76V364.1H74.65ZM75.95 355H77.3V364.1H75.95ZM77.25 355H78.6V364.1H77.25ZM78.55 355H79.9V364.1H78.55ZM79.85 355H81.21V366.7H79.85ZM81.16 352.4H82.51V364.1H81.16ZM82.46 355H83.81V364.1H82.46ZM83.76 352.4H85.11V364.1H83.76ZM85.06 355H86.41V364.1H85.06ZM86.36 355H87.72V364.1H86.36ZM87.67 355H89.02V364.1H87.67ZM88.97 355H90.32V364.1H88.97ZM90.27 355H91.62V364.1H90.27ZM91.57 352.4H92.92V364.1H91.57ZM92.87 355H94.23V364.1H92.87ZM94.18 355H95.53V364.1H94.18ZM95.48 352.4H96.83V364.1H95.48ZM96.78 355H98.13V364.1H96.78ZM98.08 355H99.43V364.1H98.08ZM99.38 355H100.74V366.7H99.38ZM100.69 355H102.04V364.1H100.69ZM101.99 355H103.34V364.1H101.99ZM103.29 355H104.64V364.1H103.29ZM104.59 355H105.94V364.1H104.59ZM105.89 355H107.25V364.1H105.89ZM107.2 355H108.55V364.1H107.2ZM108.5 355H109.85V364.1H108.5ZM109.8 355H111.15V364.1H109.8ZM111.1 355H112.45V364.1H111.1ZM112.4 355H113.76V364.1H112.4ZM113.71 355H115.06V364.1H113.71ZM115.01 355H116.36V364.1H115.01ZM116.31 355H117.66V364.1H116.31ZM117.61 355H118.96V364.1H117.61ZM118.91 355H120.27V366.7H118.91ZM120.22 355H121.57V364.1H120.22ZM121.52 355H122.87V364.1H121.52ZM122.82 355H124.17V364.1H122.82ZM124.12 355H125.47V364.1H124.12ZM125.42 355H126.78V364.1H125.42ZM126.73 355H128.08V366.7H126.73ZM128.03 355H129.38V366.7H128.03ZM129.33 355H130.68V364.1H129.33ZM130.63 355H131.98V364.1H130.63ZM131.93 355H133.29V364.1H131.93ZM133.24 355H134.59V364.1H133.24ZM134.54 355H135.89V364.1H134.54ZM135.84 355H137.19V364.1H135.84ZM137.14 355H138.49V364.1H137.14ZM138.44 352.4H139.8V366.7H138.44ZM139.75 355H141.1V364.1H139.75ZM141.05 355H142.4V364.1H141.05ZM142.35 355H143.7V364.1H142.35ZM143.65 355H144.05V364.1H143.65ZM144.95 450.6H146.31V459.6H144.95ZM146.26 450.6H147.61V459.6H146.26ZM147.56 450.6H148.91V459.6H147.56ZM148.86 450.6H150.21V459.6H148.86ZM150.16 450.6H151.51V459.6H150.16ZM151.46 450.6H152.82V459.6H151.46ZM152.77 450.6H154.12V459.6H152.77ZM154.07 450.6H155.42V459.6H154.07ZM155.37 450.6H156.72V459.6H155.37ZM156.67 450.6H158.02V459.6H156.67ZM157.97 450.6H159.33V459.6H157.97ZM159.28 450.6H160.63V459.6H159.28ZM160.58 450.6H161.93V459.6H160.58ZM161.88 450.6H163.23V459.6H161.88ZM163.18 450.6H164.53V459.6H163.18ZM164.48 450.6H165.84V459.6H164.48ZM165.79 450.6H167.14V459.6H165.79ZM167.09 450.6H168.44V459.6H167.09ZM168.39 450.6H169.74V459.6H168.39ZM169.69 450.6H171.04V459.6H169.69ZM170.99 450.6H172.35V459.6H170.99ZM172.3 450.6H173.65V459.6H172.3ZM173.6 450.6H174.95V459.6H173.6ZM174.9 450.6H176.25V459.6H174.9ZM176.2 449H177.55V459.6H176.2ZM177.5 450.6H178.86V459.6H177.5ZM178.81 450.6H180.16V459.6H178.81ZM180.11 449H181.46V459.6H180.11ZM181.41 450.6H182.76V459.6H181.41ZM182.71 450.6H184.06V459.6H182.71ZM184.01 450.6H185.37V459.6H184.01ZM185.32 450.6H186.67V459.6H185.32ZM186.62 449H187.97V459.6H186.62ZM187.92 450.6H189.27V459.6H187.92ZM189.22 450.6H190.57V459.6H189.22ZM190.52 449H191.88V459.6H190.52ZM191.83 449H193.18V459.6H191.83ZM193.13 450.6H194.48V459.6H193.13ZM194.43 450.6H195.78V459.6H194.43ZM195.73 450.6H197.08V459.6H195.73ZM197.03 450.6H198.39V459.6H197.03ZM198.34 450.6H199.69V459.6H198.34ZM199.64 450.6H200.99V459.6H199.64ZM200.94 452H202.29V459.8H200.94ZM202.24 452H203.59V459.8H202.24ZM203.54 452H204.9V459.8H203.54ZM204.85 452H206.2V459.8H204.85ZM206.15 452H207.5V459.8H206.15ZM207.45 452H208.8V462.2H207.45ZM208.75 452H210.1V459.8H208.75ZM210.05 452H211.41V459.8H210.05ZM211.36 452H212.71V459.8H211.36ZM212.66 452H214.01V459.8H212.66ZM213.96 452H215.31V459.8H213.96ZM215.26 452H216.61V459.8H215.26ZM216.56 452H217.92V459.8H216.56ZM217.87 452H219.22V459.8H217.87ZM219.17 452H220.52V459.8H219.17ZM220.47 452H221.82V459.8H220.47ZM221.77 452H223.12V459.8H221.77ZM223.07 452H224.43V459.8H223.07ZM224.38 452H225.73V459.8H224.38ZM225.68 452H227.03V459.8H225.68ZM226.98 452H228.33V459.8H226.98ZM228.28 452H229.63V462.2H228.28ZM229.58 452H230.94V459.8H229.58ZM230.89 452H232.24V459.8H230.89ZM232.19 452H233.54V459.8H232.19ZM233.49 452H234.84V459.8H233.49ZM234.79 452H236.14V459.8H234.79ZM236.09 452H237.45V462.2H236.09ZM237.4 452H238.75V459.8H237.4ZM238.7 452H240.05V459.8H238.7ZM240 452H241.35V459.8H240ZM241.3 452H242.65V459.8H241.3ZM242.6 452H243.96V459.8H242.6ZM243.91 452H245.26V459.8H243.91ZM245.21 452H246.56V459.8H245.21ZM246.51 452H247.86V459.8H246.51ZM247.81 452H249.16V459.8H247.81ZM249.11 452H250.47V459.8H249.11ZM250.42 452H251.77V459.8H250.42ZM251.72 452H253.07V459.8H251.72ZM253.02 452H254.37V459.8H253.02ZM254.32 452H255.67V459.8H254.32ZM255.62 452H256.98V459.8H255.62ZM256.93 452H258.28V459.8H256.93ZM258.23 452H259.58V459.8H258.23ZM259.53 452H260.88V459.8H259.53ZM260.83 452H262.18V459.8H260.83ZM262.13 452H263.49V459.8H262.13ZM263.44 452H264.79V459.8H263.44ZM264.74 452H266.09V459.8H264.74ZM266.04 452H267.39V462.2H266.04ZM267.34 452H268.69V459.8H267.34ZM268.64 452H270V459.8H268.64ZM269.95 452H271.3V459.8H269.95ZM271.25 452H272.6V459.8H271.25ZM272.55 452H273.9V459.8H272.55ZM273.85 452H275.2V459.8H273.85ZM275.15 452H276.51V459.8H275.15ZM276.46 452H277.81V459.8H276.46ZM277.76 452H279.11V462.2H277.76ZM279.06 452H280.41V459.8H279.06ZM280.36 452H281.71V459.8H280.36ZM281.66 452H283.02V459.8H281.66ZM282.97 452H284.32V459.8H282.97ZM284.27 452H285.62V459.8H284.27ZM285.57 453H286.92V462H285.57ZM286.87 453H288.22V464.99H286.87ZM288.17 453H289.53V464.99H288.17ZM289.48 453H290.83V462H289.48ZM290.78 453H292.13V462H290.78ZM292.08 453H293.43V462H292.08ZM293.38 453H294.73V462H293.38ZM294.68 453H296.04V462H294.68ZM295.99 453H297.34V462H295.99ZM297.29 453H298.64V462H297.29ZM298.59 453H299.94V462H298.59ZM299.89 453H301.24V462H299.89ZM301.19 453H302.55V462H301.19ZM302.5 453H303.85V462H302.5ZM303.8 453H305.15V462H303.8ZM305.1 453H306.45V462H305.1ZM306.4 453H307.75V462H306.4ZM307.7 453H309.06V462H307.7ZM309.01 453H310.36V462H309.01ZM310.31 453H311.66V462H310.31ZM311.61 453H312.96V462H311.61ZM312.91 453H314.26V462H312.91ZM314.21 453H315.57V462H314.21ZM315.52 453H316.87V462H315.52ZM316.82 453H318.17V462H316.82ZM318.12 453H319.47V462H318.12ZM319.42 453H320.77V462H319.42ZM320.72 453H322.08V462H320.72ZM322.03 453H323.38V462H322.03ZM323.33 453H324.68V462H323.33ZM324.63 453H325.98V462H324.63ZM325.93 453H327.28V462H325.93ZM327.23 453H328.59V462H327.23ZM328.54 453H329.89V462H328.54ZM329.84 453H331.19V462H329.84ZM331.14 453H332.49V462H331.14ZM332.44 453H333.79V462H332.44ZM333.74 453H335.1V462H333.74ZM335.05 453H336.4V464.99H335.05ZM336.35 453H337.7V462H336.35ZM337.65 453H339V462H337.65ZM338.95 453H340.3V462H338.95ZM340.25 453H341.61V462H340.25ZM341.56 453H342.91V462H341.56ZM342.86 453H344.21V462H342.86ZM344.16 453H345.51V462H344.16ZM345.46 453H346.81V462H345.46ZM346.76 453H348.12V464.99H346.76ZM348.07 453H349.42V462H348.07ZM349.37 453H350.72V462H349.37ZM350.67 453H352.02V462H350.67ZM351.97 453H353.32V462H351.97ZM353.27 453H354.63V462H353.27ZM354.58 453H355.93V462H354.58ZM355.88 453H357.23V462H355.88ZM357.18 453H358.53V462H357.18ZM358.48 453H359.83V462H358.48ZM359.78 453H361.14V462H359.78ZM361.09 453H362.44V462H361.09ZM362.39 453H363.74V462H362.39ZM363.69 453H365.04V462H363.69ZM364.99 453H366.34V462H364.99ZM366.29 453H367.65V462H366.29ZM367.6 453H368.95V462H367.6ZM368.9 453H370.25V462H368.9ZM370.2 453H371.55V462H370.2ZM371.5 453H372.85V462H371.5ZM372.8 453H374.16V462H372.8ZM374.11 453H375.46V462H374.11ZM375.41 453H376.76V462H375.41ZM376.71 453H378.06V462H376.71ZM378.01 453H379.36V462H378.01ZM379.31 453H380.67V464.99H379.31ZM380.62 453H381.97V462H380.62ZM381.92 453H383.27V462H381.92ZM383.22 453H384.57V464.99H383.22ZM384.52 453H385.87V462H384.52ZM385.82 453H387.18V462H385.82ZM387.13 453H388.48V462H387.13ZM388.43 453H389.78V462H388.43ZM389.73 453H391.08V462H389.73ZM391.03 453H392.38V462H391.03ZM392.33 453H393.69V462H392.33ZM393.64 453H394.99V462H393.64ZM394.94 453H396.29V462H394.94ZM396.24 453H397.59V462H396.24ZM397.54 453H398.89V462H397.54ZM398.84 453H400.2V462H398.84ZM400.15 453H401.5V462H400.15ZM401.45 453H402.8V462H401.45ZM402.75 453H404.1V462H402.75ZM404.05 453H405.4V462H404.05ZM405.35 453H406.71V462H405.35ZM406.66 453H408.01V464.99H406.66ZM407.96 453H409.31V462H407.96ZM409.26 453H410.61V462H409.26ZM410.56 453H411.91V462H410.56ZM411.86 453H413.22V462H411.86ZM413.17 453H414.52V462H413.17ZM414.47 453H415.82V462H414.47ZM415.77 453H417.12V462H415.77ZM417.07 453H418.42V462H417.07ZM418.37 453H419.73V462H418.37ZM419.68 453H421.03V464.99H419.68ZM420.98 453H422.33V462H420.98ZM422.28 453H423.63V464.99H422.28ZM423.58 453H424.93V462H423.58ZM424.88 453H426.24V462H424.88ZM426.19 453H427.54V462H426.19ZM427.49 453H428.84V462H427.49ZM428.79 453H430.14V462H428.79ZM430.09 453H431.44V462H430.09ZM431.39 453H432.75V462H431.39ZM432.7 453H434.05V462H432.7ZM434 453H435.35V462H434ZM435.3 453H436.65V462H435.3ZM436.6 453H437.95V462H436.6ZM437.9 453H439.26V462H437.9ZM439.21 453H440.56V462H439.21ZM440.51 453H441.86V462H440.51ZM441.81 453H443.16V462H441.81ZM443.11 453H444.46V462H443.11ZM444.41 453H445.77V462H444.41ZM445.72 453H447.07V462H445.72ZM447.02 453H448.37V462H447.02ZM448.32 453H449.67V462H448.32ZM449.62 453H450.97V462H449.62ZM450.92 453H452.28V462H450.92ZM452.23 453H453.58V462H452.23ZM453.53 453H454.88V462H453.53ZM454.83 453H456.18V462H454.83ZM456.13 453H457.48V462H456.13ZM457.43 453H458.79V464.99H457.43ZM458.74 453H460.09V462H458.74ZM460.04 453H461.39V462H460.04ZM461.34 453H462.69V462H461.34ZM462.64 453H463.99V462H462.64ZM463.94 453H465.3V462H463.94ZM465.25 453H466.6V462H465.25ZM466.55 453H467.9V462H466.55ZM467.85 453H469.2V462H467.85ZM469.15 453H470.5V462H469.15ZM470.45 453H471.81V462H470.45ZM471.76 453H473.11V462H471.76ZM473.06 453H474.41V462H473.06ZM474.36 453H475.71V462H474.36ZM475.66 453H477.01V462H475.66ZM476.96 453H478.32V462H476.96ZM478.27 453H479.62V462H478.27ZM479.57 453H480.92V462H479.57ZM480.87 453H482.22V462H480.87ZM482.17 453H483.52V462H482.17ZM483.47 453H484.83V462H483.47ZM484.78 453H486.13V462H484.78ZM486.08 453H487.43V462H486.08ZM487.38 453H488.73V462H487.38ZM488.68 453H490.03V462H488.68ZM489.98 453H491.34V462H489.98ZM491.29 453H492.64V462H491.29ZM492.59 453H493.94V462H492.59ZM493.89 453H495.24V462H493.89ZM495.19 453H496.54V462H495.19ZM496.49 453H497.85V462H496.49ZM497.8 453H499.15V462H497.8ZM499.1 453H500.45V462H499.1ZM500.4 453H501.75V462H500.4ZM501.7 453H503.05V464.99H501.7ZM503 453H504.36V462H503ZM504.31 453H505.66V462H504.31ZM505.61 453H506.96V462H505.61ZM506.91 453H508.26V464.99H506.91ZM508.21 453H509.56V462H508.21ZM509.51 453H510.87V464.99H509.51ZM510.82 453H512.17V462H510.82ZM512.12 453H513.47V462H512.12ZM513.42 453H514.77V462H513.42ZM514.72 453H516.07V462H514.72ZM516.02 453H517.38V462H516.02ZM517.33 453H518.68V462H517.33ZM518.63 453H519.98V462H518.63ZM519.93 453H521.28V462H519.93ZM521.23 453H522.58V462H521.23ZM522.53 453H523.89V464.99H522.53ZM523.84 453H525.19V462H523.84ZM525.14 453H526.49V462H525.14ZM526.44 453H527.79V462H526.44ZM527.74 453H529.09V462H527.74ZM529.04 453H530.4V462H529.04ZM530.35 453H531.7V462H530.35ZM531.65 453H533V462H531.65ZM532.95 453H534.3V462H532.95ZM534.25 453H535.6V462H534.25ZM535.55 453H536.91V462H535.55ZM536.86 453H538.21V464.99H536.86ZM538.16 453H539.51V462H538.16ZM539.46 453H540.81V462H539.46ZM540.76 453H542.11V462H540.76ZM542.06 453H543.42V462H542.06ZM543.37 453H544.72V462H543.37ZM544.67 453H546.02V462H544.67ZM545.97 453H547.32V462H545.97ZM547.27 453H548.62V462H547.27ZM548.57 453H549.93V462H548.57ZM549.88 453H551.23V462H549.88ZM551.18 453H552.53V462H551.18ZM552.48 453H553.83V464.99H552.48ZM553.78 453H555.13V462H553.78ZM555.08 453H556.44V462H555.08ZM556.39 453H557.74V462H556.39ZM557.69 453H559.04V462H557.69ZM558.99 453H560.34V462H558.99ZM560.29 453H561.64V462H560.29ZM561.59 453H562.95V462H561.59ZM562.9 453H564.25V462H562.9ZM564.2 453H565.55V462H564.2ZM565.5 453H566.85V462H565.5ZM566.8 453H568.15V462H566.8ZM568.1 453H569.46V462H568.1ZM569.41 453H570.76V462H569.41ZM570.71 453H572.06V462H570.71ZM572.01 453H573.36V462H572.01ZM573.31 453H574.66V462H573.31ZM574.61 453H575.97V462H574.61ZM575.92 453H577.27V462H575.92ZM577.22 453H578.57V462H577.22ZM578.52 453H579.87V462H578.52ZM579.82 453H581.17V462H579.82ZM581.12 453H582.48V462H581.12ZM582.43 453H583.78V462H582.43ZM583.73 453H585.08V462H583.73ZM585.03 453H586.38V462H585.03ZM586.33 453H587.68V462H586.33ZM587.63 453H588.99V462H587.63ZM588.94 453H590.29V462H588.94ZM590.24 453H591.59V462H590.24ZM591.54 453H592.89V462H591.54ZM592.84 453H594.19V462H592.84ZM594.14 453H595.5V464.99H594.14ZM595.45 453H596.8V462H595.45ZM596.75 453H598.1V462H596.75ZM598.05 453H599.4V462H598.05ZM599.35 453H600.7V464.99H599.35ZM600.65 453H602.01V462H600.65ZM601.96 453H603.31V462H601.96ZM603.26 453H604.61V462H603.26ZM604.56 453H605.91V462H604.56ZM605.86 453H607.21V462H605.86ZM607.16 453H608.52V462H607.16ZM608.47 453H609.82V462H608.47ZM609.77 453H611.12V462H609.77ZM611.07 453H612.42V462H611.07ZM612.37 453H613.72V462H612.37ZM613.67 453H615.03V462H613.67ZM614.98 453H616.33V462H614.98ZM616.28 453H617.63V464.99H616.28ZM617.58 453H618.93V462H617.58ZM618.88 453H620.23V462H618.88ZM620.18 453H621.54V462H620.18ZM621.49 453H622.84V462H621.49ZM622.79 453H624.14V462H622.79ZM624.09 453H625.44V462H624.09ZM625.39 453H626.74V462H625.39ZM626.69 453H628.05V462H626.69ZM628 453H629.35V462H628ZM629.3 453H630.65V462H629.3ZM630.6 453H631.95V462H630.6ZM631.9 453H633.25V462H631.9ZM633.2 453H634.56V462H633.2ZM634.51 453H635.86V462H634.51ZM635.81 453H637.16V464.99H635.81ZM637.11 453H638.46V462H637.11ZM638.41 453H639.76V462H638.41ZM639.71 453H641.07V462H639.71ZM641.02 453H642.37V462H641.02ZM642.32 453H643.67V462H642.32ZM643.62 453H644.97V462H643.62ZM644.92 453H646.27V462H644.92ZM646.22 453H647.58V462H646.22ZM647.53 453H648.88V462H647.53ZM648.83 453H650.18V462H648.83ZM650.13 453H651.48V462H650.13ZM651.43 453H652.78V462H651.43ZM652.73 453H654.09V462H652.73ZM654.04 453H655.39V462H654.04ZM655.34 453H656.69V464.99H655.34ZM656.64 453H657.99V462H656.64ZM657.94 453H659.29V462H657.94ZM659.24 453H660.6V462H659.24ZM660.55 453H661.9V462H660.55ZM661.85 453H663.2V462H661.85ZM663.15 453H664.5V464.99H663.15ZM143.3 355H144.7V464.5H143.3ZM147.2 446.2h3.4v2.9h-3.4z" fill="#9c4a00"/>
<path d="M12.15 289.9H13.5V301.61H12.15ZM13.45 289.9H14.8V299.4H13.45ZM14.75 289.9H16.11V301.61H14.75ZM16.06 287.3H17.41V299.4H16.06ZM17.36 289.9H18.71V301.61H17.36ZM18.66 289.9H20.01V301.61H18.66ZM19.96 289.9H21.31V301.61H19.96ZM21.26 289.9H22.62V301.61H21.26ZM22.57 289.9H23.92V299.4H22.57ZM23.87 289.9H25.22V299.4H23.87ZM25.17 289.9H26.52V301.61H25.17ZM26.47 289.9H27.82V299.4H26.47ZM27.77 289.9H29.13V301.61H27.77ZM29.08 289.9H30.43V301.61H29.08ZM30.38 289.9H31.73V299.4H30.38ZM31.68 289.9H33.03V299.4H31.68ZM32.98 289.9H34.33V299.4H32.98ZM34.28 289.9H35.64V299.4H34.28ZM35.59 289.9H36.94V301.61H35.59ZM36.89 289.9H38.24V301.61H36.89ZM38.19 289.9H39.54V301.61H38.19ZM39.49 289.9H40.84V301.61H39.49ZM40.79 289.9H42.15V301.61H40.79ZM42.1 289.9H43.45V299.4H42.1ZM43.4 289.9H44.75V299.4H43.4ZM44.7 289.9H46.05V299.4H44.7ZM46 289.9H47.35V299.4H46ZM47.3 289.9H48.66V301.61H47.3ZM48.61 289.9H49.96V299.4H48.61ZM49.91 289.9H51.26V299.4H49.91ZM51.21 289.9H52.56V301.61H51.21ZM52.51 289.9H53.86V299.4H52.51ZM53.81 289.9H55.17V301.61H53.81ZM55.12 289.9H56.47V299.4H55.12ZM56.42 289.9H57.77V299.4H56.42ZM57.72 289.9H59.07V301.61H57.72ZM59.02 289.9H60.37V299.4H59.02ZM60.32 289.9H61.68V301.61H60.32ZM61.63 289.9H62.98V301.61H61.63ZM62.93 289.9H64.28V301.61H62.93ZM64.23 289.9H65.58V299.4H64.23ZM65.53 289.9H66.88V299.4H65.53ZM66.83 289.9H68.19V301.61H66.83ZM68.14 289.9H69.49V301.61H68.14ZM69.44 289.9H70.79V301.61H69.44ZM70.74 289.9H72.09V301.61H70.74ZM72.04 287.3H73.39V299.4H72.04ZM73.34 289.9H74.7V299.4H73.34ZM74.65 289.9H76V301.61H74.65ZM75.95 289.9H77.3V301.61H75.95ZM77.25 289.9H78.6V299.4H77.25ZM78.55 289.9H79.9V299.4H78.55ZM79.85 289.9H81.21V301.61H79.85ZM81.16 289.9H82.51V299.4H81.16ZM82.46 289.9H83.81V301.61H82.46ZM83.76 289.9H85.11V301.61H83.76ZM85.06 289.9H86.41V301.61H85.06ZM86.36 289.9H87.72V299.4H86.36ZM87.67 287.3H89.02V299.4H87.67ZM88.97 289.9H90.32V301.61H88.97ZM90.27 289.9H91.62V301.61H90.27ZM91.57 289.9H92.92V301.61H91.57ZM92.87 289.9H94.23V299.4H92.87ZM94.18 287.3H95.53V301.61H94.18ZM95.48 289.9H96.83V299.4H95.48ZM96.78 289.9H98.13V301.61H96.78ZM98.08 289.9H99.43V301.61H98.08ZM99.38 289.9H100.74V301.61H99.38ZM100.69 289.9H102.04V299.4H100.69ZM101.99 289.9H103.34V301.61H101.99ZM103.29 289.9H104.64V301.61H103.29ZM104.59 289.9H105.94V299.4H104.59ZM105.89 289.9H107.25V301.61H105.89ZM107.2 289.9H108.55V301.61H107.2ZM108.5 289.9H109.85V301.61H108.5ZM109.8 289.9H111.15V301.61H109.8ZM111.1 289.9H112.45V301.61H111.1ZM112.4 289.9H113.76V301.61H112.4ZM113.71 289.9H115.06V301.61H113.71ZM115.01 289.9H116.36V299.4H115.01ZM116.31 289.9H117.66V301.61H116.31ZM117.61 289.9H118.96V301.61H117.61ZM118.91 289.9H120.27V301.61H118.91ZM120.22 289.9H121.57V299.4H120.22ZM121.52 289.9H122.87V301.61H121.52ZM122.82 289.9H124.17V299.4H122.82ZM124.12 289.9H125.47V301.61H124.12ZM125.42 289.9H126.78V301.61H125.42ZM126.73 289.9H128.08V301.61H126.73ZM128.03 289.9H129.38V301.61H128.03ZM129.33 289.9H130.68V301.61H129.33ZM130.63 289.9H131.98V301.61H130.63ZM131.93 287.3H133.29V299.4H131.93ZM133.24 289.9H134.59V299.4H133.24ZM134.54 289.9H135.89V299.4H134.54ZM135.84 289.9H137.19V301.61H135.84ZM137.14 289.9H138.49V299.4H137.14ZM138.44 289.9H139.8V301.61H138.44ZM139.75 289.9H141.1V301.61H139.75ZM141.05 289.9H142.4V301.61H141.05ZM142.35 289.9H143.7V301.61H142.35ZM143.65 449H145V460.3H143.65ZM144.95 449H146.31V463.3H144.95ZM146.26 449H147.61V460.3H146.26ZM147.56 449H148.91V460.3H147.56ZM148.86 449H150.21V460.3H148.86ZM150.16 449H151.51V460.3H150.16ZM151.46 449H152.82V460.3H151.46ZM152.77 449H154.12V460.3H152.77ZM154.07 449H155.42V463.3H154.07ZM155.37 449H156.72V460.3H155.37ZM156.67 449H158.02V460.3H156.67ZM157.97 449H159.33V460.3H157.97ZM159.28 449H160.63V460.3H159.28ZM160.58 449H161.93V460.3H160.58ZM161.88 449H163.23V460.3H161.88ZM163.18 449H164.53V460.3H163.18ZM164.48 449H165.84V460.3H164.48ZM165.79 449H167.14V460.3H165.79ZM167.09 449H168.44V460.3H167.09ZM168.39 449H169.74V460.3H168.39ZM169.69 449H171.04V460.3H169.69ZM170.99 449H172.35V460.3H170.99ZM172.3 449H173.65V460.3H172.3ZM173.6 449H174.95V460.3H173.6ZM174.9 449H176.25V460.3H174.9ZM176.2 449H177.55V460.3H176.2ZM177.5 449H178.86V460.3H177.5ZM178.81 449H180.16V460.3H178.81ZM180.11 449H181.46V460.3H180.11ZM181.41 449H182.76V460.3H181.41ZM182.71 449H184.06V460.3H182.71ZM184.01 449H185.37V463.3H184.01ZM185.32 449H186.67V460.3H185.32ZM186.62 449H187.97V460.3H186.62ZM187.92 449H189.27V463.3H187.92ZM189.22 449H190.57V460.3H189.22ZM190.52 449H191.88V460.3H190.52ZM191.83 449H193.18V460.3H191.83ZM193.13 449H194.48V460.3H193.13ZM194.43 451.4H195.78V460.3H194.43ZM195.73 449H197.08V463.3H195.73ZM197.03 449H198.39V460.3H197.03ZM198.34 449H199.69V460.3H198.34ZM199.64 451.4H200.99V463.3H199.64ZM200.94 451.4H202.29V460.3H200.94ZM202.24 449H203.59V460.3H202.24ZM203.54 451.4H204.9V460.3H203.54ZM204.85 451.4H206.2V460.3H204.85ZM206.15 451.4H207.5V460.3H206.15ZM207.45 451.4H208.8V460.3H207.45ZM208.75 451.4H210.1V463.3H208.75ZM210.05 449H211.41V460.3H210.05ZM211.36 451.4H212.71V460.3H211.36ZM212.66 451.4H214.01V460.3H212.66ZM213.96 451.4H215.31V460.3H213.96ZM215.26 451.4H216.61V460.3H215.26ZM216.56 451.4H217.92V460.3H216.56ZM217.87 451.4H219.22V460.3H217.87ZM219.17 451.4H220.52V460.3H219.17ZM220.47 451.4H221.82V462.9H220.47ZM221.77 451.4H223.12V460.3H221.77ZM223.07 451.4H224.43V460.3H223.07ZM224.38 451.4H225.73V460.3H224.38ZM225.68 451.4H227.03V462.9H225.68ZM226.98 451.4H228.33V462.9H226.98ZM228.28 451.4H229.63V460.3H228.28ZM229.58 451.4H230.94V460.3H229.58ZM230.89 451.4H232.24V460.3H230.89ZM232.19 451.4H233.54V462.9H232.19ZM233.49 451.4H234.84V462.9H233.49ZM234.79 451.4H236.14V460.3H234.79ZM236.09 449.32H237.45V462.9H236.09ZM237.4 451.4H238.75V460.3H237.4ZM238.7 451.4H240.05V462.9H238.7ZM240 451.4H241.35V462.9H240ZM241.3 451.4H242.65V460.3H241.3ZM242.6 451.4H243.96V460.3H242.6ZM243.91 451.4H245.26V460.3H243.91ZM245.21 449.32H246.56V460.3H245.21ZM246.51 451.4H247.86V460.3H246.51ZM247.81 451.4H249.16V460.3H247.81ZM249.11 451.4H250.47V462.9H249.11ZM250.42 451.4H251.77V462.9H250.42ZM251.72 451.4H253.07V462.9H251.72ZM253.02 451.4H254.37V462.9H253.02ZM254.32 451.4H255.67V460.3H254.32ZM255.62 451.4H256.98V462.9H255.62ZM256.93 451.4H258.28V462.9H256.93ZM258.23 451.4H259.58V462.9H258.23ZM259.53 451.4H260.88V460.3H259.53ZM260.83 451.4H262.18V462.9H260.83ZM262.13 451.4H263.49V462.9H262.13ZM263.44 451.4H264.79V462.9H263.44ZM264.74 451.4H266.09V462.9H264.74ZM266.04 451.4H267.39V460.3H266.04ZM267.34 451.4H268.69V462.9H267.34ZM268.64 451.4H270V460.3H268.64ZM269.95 451.4H271.3V462.9H269.95ZM271.25 451.4H272.6V462.9H271.25ZM272.55 451.4H273.9V462.9H272.55ZM273.85 451.4H275.2V462.9H273.85ZM275.15 451.4H276.51V462.9H275.15ZM276.46 451.4H277.81V462.9H276.46ZM277.76 451.4H279.11V462.9H277.76ZM279.06 451.4H280.41V462.9H279.06ZM280.36 451.4H281.71V462.9H280.36ZM281.66 449.32H283.02V462.9H281.66ZM282.97 451.4H284.32V462.9H282.97ZM284.27 451.4H285.62V462.9H284.27ZM285.57 451.4H286.92V462.9H285.57ZM286.87 451.4H288.22V462.9H286.87ZM288.17 451.4H289.53V462.9H288.17ZM289.48 451.4H290.83V462.9H289.48ZM290.78 451.4H292.13V462.9H290.78ZM292.08 451.4H293.43V462.9H292.08ZM293.38 451.4H294.73V462.9H293.38ZM294.68 451.4H296.04V462.9H294.68ZM295.99 451.4H297.34V462.9H295.99ZM297.29 451.4H298.64V462.9H297.29ZM298.59 451.4H299.94V462.9H298.59ZM299.89 451.4H301.24V462.9H299.89ZM301.19 451.4H302.55V462.9H301.19ZM302.5 451.4H303.85V462.9H302.5ZM303.8 451.4H305.15V462.9H303.8ZM305.1 451.4H306.45V462.9H305.1ZM306.4 451.4H307.75V462.9H306.4ZM307.7 451.4H309.06V462.9H307.7ZM309.01 451.4H310.36V462.9H309.01ZM310.31 451.4H311.66V462.9H310.31ZM311.61 451.4H312.96V464.2H311.61ZM312.91 451.4H314.26V462.9H312.91ZM314.21 451.4H315.57V462.9H314.21ZM315.52 451.4H316.87V462.9H315.52ZM316.82 451.4H318.17V462.9H316.82ZM318.12 451.4H319.47V462.9H318.12ZM319.42 451.4H320.77V462.9H319.42ZM320.72 451.4H322.08V462.9H320.72ZM322.03 451.4H323.38V462.9H322.03ZM323.33 451.4H324.68V462.9H323.33ZM324.63 451.4H325.98V462.9H324.63ZM325.93 451.4H327.28V462.9H325.93ZM327.23 451.4H328.59V462.9H327.23ZM328.54 451.4H329.89V462.9H328.54ZM329.84 451.4H331.19V462.9H329.84ZM331.14 451.4H332.49V462.9H331.14ZM332.44 451.4H333.79V462.9H332.44ZM333.74 451.4H335.1V462.9H333.74ZM335.05 451.4H336.4V462.9H335.05ZM336.35 451.4H337.7V462.9H336.35ZM337.65 451.4H339V462.9H337.65ZM338.95 451.4H340.3V462.9H338.95ZM340.25 451.4H341.61V462.9H340.25ZM341.56 451.4H342.91V462.9H341.56ZM342.86 451.4H344.21V462.9H342.86ZM344.16 451.4H345.51V462.9H344.16ZM345.46 451.4H346.81V462.9H345.46ZM346.76 451.4H348.12V462.9H346.76ZM348.07 451.4H349.42V462.9H348.07ZM349.37 451.4H350.72V462.9H349.37ZM350.67 451.4H352.02V462.9H350.67ZM351.97 449.32H353.32V462.9H351.97ZM353.27 451.4H354.63V462.9H353.27ZM354.58 451.4H355.93V462.9H354.58ZM355.88 451.4H357.23V462.9H355.88ZM357.18 451.4H358.53V462.9H357.18ZM358.48 451.4H359.83V462.9H358.48ZM359.78 451.4H361.14V462.9H359.78ZM361.09 451.4H362.44V462.9H361.09ZM362.39 451.4H363.74V462.9H362.39ZM363.69 451.4H365.04V462.9H363.69ZM364.99 451.4H366.34V462.9H364.99ZM366.29 451.4H367.65V462.9H366.29ZM367.6 451.4H368.95V462.9H367.6ZM368.9 451.4H370.25V462.9H368.9ZM370.2 451.4H371.55V462.9H370.2ZM371.5 451.4H372.85V462.9H371.5ZM372.8 449.32H374.16V462.9H372.8ZM374.11 451.4H375.46V462.9H374.11ZM375.41 451.4H376.76V462.9H375.41ZM376.71 451.4H378.06V462.9H376.71ZM378.01 451.4H379.36V462.9H378.01ZM379.31 451.4H380.67V462.9H379.31ZM380.62 451.4H381.97V462.9H380.62ZM381.92 451.4H383.27V464.2H381.92ZM383.22 451.4H384.57V462.9H383.22ZM384.52 451.4H385.87V462.9H384.52ZM385.82 451.4H387.18V462.9H385.82ZM387.13 451.4H388.48V464.2H387.13ZM388.43 451.4H389.78V462.9H388.43ZM389.73 451.4H391.08V462.9H389.73ZM391.03 451.4H392.38V462.9H391.03ZM392.33 451.4H393.69V462.9H392.33ZM393.64 451.4H394.99V462.9H393.64ZM394.94 451.4H396.29V462.9H394.94ZM396.24 451.4H397.59V462.9H396.24ZM397.54 451.4H398.89V462.9H397.54ZM398.84 451.4H400.2V462.9H398.84ZM400.15 451.4H401.5V462.9H400.15ZM401.45 451.4H402.8V462.9H401.45ZM402.75 451.4H404.1V462.9H402.75ZM404.05 451.4H405.4V462.9H404.05ZM405.35 451.4H406.71V462.9H405.35ZM406.66 451.4H408.01V462.9H406.66ZM407.96 451.4H409.31V462.9H407.96ZM409.26 449.32H410.61V462.9H409.26ZM410.56 451.4H411.91V462.9H410.56ZM411.86 451.4H413.22V462.9H411.86ZM413.17 451.4H414.52V462.9H413.17ZM414.47 451.4H415.82V462.9H414.47ZM415.77 451.4H417.12V462.9H415.77ZM417.07 451.4H418.42V462.9H417.07ZM418.37 451.4H419.73V462.9H418.37ZM419.68 451.4H421.03V462.9H419.68ZM420.98 451.4H422.33V462.9H420.98ZM422.28 451.4H423.63V464.2H422.28ZM423.58 451.4H424.93V462.9H423.58ZM424.88 451.4H426.24V462.9H424.88ZM426.19 451.4H427.54V462.9H426.19ZM427.49 451.4H428.84V462.9H427.49ZM428.79 451.4H430.14V464.2H428.79ZM430.09 451.4H431.44V462.9H430.09ZM431.39 451.4H432.75V462.9H431.39ZM432.7 449.32H434.05V462.9H432.7ZM434 451.4H435.35V462.9H434ZM435.3 451.4H436.65V462.9H435.3ZM436.6 451.4H437.95V464.2H436.6ZM437.9 451.4H439.26V462.9H437.9ZM439.21 451.4H440.56V462.9H439.21ZM440.51 451.4H441.86V462.9H440.51ZM441.81 451.4H443.16V462.9H441.81ZM443.11 451.4H444.46V462.9H443.11ZM444.41 451.4H445.77V462.9H444.41ZM445.72 451.4H447.07V462.9H445.72ZM447.02 451.4H448.37V462.9H447.02ZM448.32 451.4H449.67V462.9H448.32ZM449.62 451.4H450.97V462.9H449.62ZM450.92 451.4H452.28V462.9H450.92ZM452.23 451.4H453.58V462.9H452.23ZM453.53 449.32H454.88V464.2H453.53ZM454.83 451.4H456.18V462.9H454.83ZM456.13 449.32H457.48V462.9H456.13ZM457.43 451.4H458.79V462.9H457.43ZM458.74 451.4H460.09V462.9H458.74ZM460.04 451.4H461.39V462.9H460.04ZM461.34 451.4H462.69V462.9H461.34ZM462.64 449.32H463.99V462.9H462.64ZM463.94 451.4H465.3V462.9H463.94ZM465.25 451.4H466.6V462.9H465.25ZM466.55 451.4H467.9V462.9H466.55ZM467.85 451.4H469.2V462.9H467.85ZM469.15 451.4H470.5V462.9H469.15ZM470.45 451.4H471.81V462.9H470.45ZM471.76 451.4H473.11V462.9H471.76ZM473.06 451.4H474.41V462.9H473.06ZM474.36 451.4H475.71V462.9H474.36ZM475.66 451.4H477.01V462.9H475.66ZM476.96 451.4H478.32V462.9H476.96ZM478.27 451.4H479.62V462.9H478.27ZM479.57 451.4H480.92V462.9H479.57ZM480.87 451.4H482.22V462.9H480.87ZM482.17 451.4H483.52V462.9H482.17ZM483.47 449.32H484.83V462.9H483.47ZM484.78 451.4H486.13V462.9H484.78ZM486.08 451.4H487.43V462.9H486.08ZM487.38 451.4H488.73V462.9H487.38ZM488.68 451.4H490.03V462.9H488.68ZM489.98 451.4H491.34V462.9H489.98ZM491.29 451.4H492.64V462.9H491.29ZM492.59 451.4H493.94V462.9H492.59ZM493.89 451.4H495.24V462.9H493.89ZM495.19 451.4H496.54V462.9H495.19ZM496.49 451.4H497.85V462.9H496.49ZM497.8 451.4H499.15V462.9H497.8ZM499.1 451.4H500.45V462.9H499.1ZM500.4 451.4H501.75V462.9H500.4ZM501.7 449.32H503.05V462.9H501.7ZM503 451.4H504.36V462.9H503ZM504.31 451.4H505.66V462.9H504.31ZM505.61 451.4H506.96V462.9H505.61ZM506.91 451.4H508.26V462.9H506.91ZM508.21 451.4H509.56V462.9H508.21ZM509.51 451.4H510.87V462.9H509.51ZM510.82 451.4H512.17V464.2H510.82ZM512.12 451.4H513.47V462.9H512.12ZM513.42 451.4H514.77V462.9H513.42ZM514.72 451.4H516.07V462.9H514.72ZM516.02 451.4H517.38V462.9H516.02ZM517.33 451.4H518.68V462.9H517.33ZM518.63 451.4H519.98V462.9H518.63ZM519.93 451.4H521.28V462.9H519.93ZM521.23 451.4H522.58V462.9H521.23ZM522.53 451.4H523.89V462.9H522.53ZM523.84 451.4H525.19V462.9H523.84ZM525.14 451.4H526.49V462.9H525.14ZM526.44 451.4H527.79V462.9H526.44ZM527.74 451.4H529.09V462.9H527.74ZM529.04 451.4H530.4V462.9H529.04ZM530.35 451.4H531.7V462.9H530.35ZM531.65 451.4H533V462.9H531.65ZM532.95 451.4H534.3V462.9H532.95ZM534.25 451.4H535.6V462.9H534.25ZM535.55 451.4H536.91V462.9H535.55ZM536.86 451.4H538.21V462.9H536.86ZM538.16 451.4H539.51V462.9H538.16ZM539.46 451.4H540.81V462.9H539.46ZM540.76 451.4H542.11V462.9H540.76ZM542.06 451.4H543.42V462.9H542.06ZM543.37 451.4H544.72V462.9H543.37ZM544.67 451.4H546.02V462.9H544.67ZM545.97 451.4H547.32V462.9H545.97ZM547.27 451.4H548.62V462.9H547.27ZM548.57 451.4H549.93V462.9H548.57ZM549.88 451.4H551.23V462.9H549.88ZM551.18 451.4H552.53V462.9H551.18ZM552.48 451.4H553.83V464.2H552.48ZM553.78 451.4H555.13V462.9H553.78ZM555.08 451.4H556.44V462.9H555.08ZM556.39 451.4H557.74V462.9H556.39ZM557.69 451.4H559.04V462.9H557.69ZM558.99 451.4H560.34V462.9H558.99ZM560.29 451.4H561.64V462.9H560.29ZM561.59 451.4H562.95V462.9H561.59ZM562.9 451.4H564.25V462.9H562.9ZM564.2 451.4H565.55V462.9H564.2ZM565.5 451.4H566.85V462.9H565.5ZM566.8 451.4H568.15V462.9H566.8ZM568.1 451.4H569.46V462.9H568.1ZM569.41 451.4H570.76V462.9H569.41ZM570.71 451.4H572.06V462.9H570.71ZM572.01 451.4H573.36V462.9H572.01ZM573.31 451.4H574.66V462.9H573.31ZM574.61 449.32H575.97V462.9H574.61ZM575.92 451.4H577.27V462.9H575.92ZM577.22 451.4H578.57V462.9H577.22ZM578.52 451.4H579.87V462.9H578.52ZM579.82 451.4H581.17V462.9H579.82ZM581.12 451.4H582.48V462.9H581.12ZM582.43 449.32H583.78V462.9H582.43ZM583.73 449.32H585.08V462.9H583.73ZM585.03 451.4H586.38V462.9H585.03ZM586.33 451.4H587.68V462.9H586.33ZM587.63 451.4H588.99V462.9H587.63ZM588.94 451.4H590.29V462.9H588.94ZM590.24 451.4H591.59V464.2H590.24ZM591.54 451.4H592.89V462.9H591.54ZM592.84 451.4H594.19V462.9H592.84ZM594.14 451.4H595.5V462.9H594.14ZM595.45 451.4H596.8V462.9H595.45ZM596.75 451.4H598.1V462.9H596.75ZM598.05 451.4H599.4V462.9H598.05ZM599.35 451.4H600.7V462.9H599.35ZM600.65 449.32H602.01V462.9H600.65ZM601.96 451.4H603.31V462.9H601.96ZM603.26 451.4H604.61V462.9H603.26ZM604.56 451.4H605.91V462.9H604.56ZM605.86 451.4H607.21V462.9H605.86ZM607.16 451.4H608.52V462.9H607.16ZM608.47 451.4H609.82V462.9H608.47ZM609.77 451.4H611.12V462.9H609.77ZM611.07 451.4H612.42V462.9H611.07ZM612.37 451.4H613.72V462.9H612.37ZM613.67 451.4H615.03V462.9H613.67ZM614.98 451.4H616.33V462.9H614.98ZM616.28 451.4H617.63V462.9H616.28ZM617.58 451.4H618.93V462.9H617.58ZM618.88 451.4H620.23V462.9H618.88ZM620.18 449.32H621.54V462.9H620.18ZM621.49 451.4H622.84V462.9H621.49ZM622.79 451.4H624.14V462.9H622.79ZM624.09 451.4H625.44V462.9H624.09ZM625.39 451.4H626.74V462.9H625.39ZM626.69 451.4H628.05V462.9H626.69ZM628 451.4H629.35V462.9H628ZM629.3 451.4H630.65V462.9H629.3ZM630.6 451.4H631.95V462.9H630.6ZM631.9 451.4H633.25V462.9H631.9ZM633.2 451.4H634.56V462.9H633.2ZM634.51 451.4H635.86V462.9H634.51ZM635.81 451.4H637.16V462.9H635.81ZM637.11 451.4H638.46V462.9H637.11ZM638.41 451.4H639.76V462.9H638.41ZM639.71 451.4H641.07V462.9H639.71ZM641.02 451.4H642.37V462.9H641.02ZM642.32 451.4H643.67V462.9H642.32ZM643.62 451.4H644.97V462.9H643.62ZM644.92 449.32H646.27V462.9H644.92ZM646.22 451.4H647.58V462.9H646.22ZM647.53 451.4H648.88V462.9H647.53ZM648.83 451.4H650.18V462.9H648.83ZM650.13 451.4H651.48V462.9H650.13ZM651.43 451.4H652.78V462.9H651.43ZM652.73 451.4H654.09V462.9H652.73ZM654.04 451.4H655.39V462.9H654.04ZM655.34 451.4H656.69V462.9H655.34ZM656.64 451.4H657.99V462.9H656.64ZM657.94 451.4H659.29V462.9H657.94ZM659.24 451.4H660.6V462.9H659.24ZM660.55 451.4H661.9V462.9H660.55ZM661.85 451.4H663.2V462.9H661.85ZM663.15 451.4H664.5V462.9H663.15ZM142.9 290H144.6V462H142.9Z" fill="#990099"/>
<path d="M154.57 456.64h1.6v1.6h-1.6zM167.59 456.64h1.6v1.6h-1.6zM180.61 456.64h1.6v1.6h-1.6zM193.63 456.64h1.6v1.6h-1.6zM206.65 456.64h1.6v1.6h-1.6zM219.67 456.64h1.6v1.6h-1.6zM232.69 456.64h1.6v1.6h-1.6zM245.71 456.64h1.6v1.6h-1.6zM258.73 456.64h1.6v1.6h-1.6zM271.75 456.64h1.6v1.6h-1.6zM284.77 456.64h1.6v1.6h-1.6zM297.79 456.64h1.6v1.6h-1.6zM310.81 456.64h1.6v1.6h-1.6zM323.83 456.64h1.6v1.6h-1.6zM349.87 456.64h1.6v1.6h-1.6zM362.89 456.64h1.6v1.6h-1.6zM375.91 456.64h1.6v1.6h-1.6zM388.93 456.64h1.6v1.6h-1.6zM401.95 456.64h1.6v1.6h-1.6zM414.97 456.64h1.6v1.6h-1.6zM427.99 456.64h1.6v1.6h-1.6zM441.01 456.64h1.6v1.6h-1.6zM454.03 456.64h1.6v1.6h-1.6zM467.05 456.64h1.6v1.6h-1.6zM480.07 456.64h1.6v1.6h-1.6zM493.09 456.64h1.6v1.6h-1.6zM506.11 456.64h1.6v1.6h-1.6zM519.13 456.64h1.6v1.6h-1.6zM532.15 456.64h1.6v1.6h-1.6zM545.17 456.64h1.6v1.6h-1.6zM558.19 456.64h1.6v1.6h-1.6zM571.21 456.64h1.6v1.6h-1.6zM584.23 456.64h1.6v1.6h-1.6zM597.25 456.64h1.6v1.6h-1.6zM610.27 456.64h1.6v1.6h-1.6zM623.29 456.64h1.6v1.6h-1.6zM636.31 456.64h1.6v1.6h-1.6z" fill="#e2a0e2"/>
<path d="M337.65 450.9V463M327.95 457.44h19.4M649.45 457.44H663.15" stroke="#eab4ea" stroke-width="1.4" fill="none"/>
<path d="M337.65 419.5V430.5M155.5 262.08H159" stroke="#9ed89e" stroke-width="1.4" fill="none"/>
<!-- trigger marker -->
<path d="M136.9 0V3.3L143.6 8.9L144.8 9.1L151.1 2.7V0Z" fill="#ff9b69"/>
<!-- ground marker -->
<rect x="0" y="447.5" width="12" height="18.2" fill="#990099"/>
<path d="M2.4 456.7H7V454.4L10.9 457.4L7 460.4V458.1H2.4Z" fill="#fff"/>
<!-- right arrow -->
<path d="M661.2 369.3H651V365.5L645.4 370.1L651 374.7V370.9H661.2Z" fill="#990099"/>
<g fill="#fff">
<rect x="27" y="34.5" width="119" height="23"/>
<rect x="23" y="172" width="104" height="18.5"/>
<rect x="30" y="268.6" width="86" height="16"/>
<rect x="18.3" y="325.5" width="122.7" height="19"/>
<rect x="553" y="481" width="91" height="20.5"/>
</g>
<text x="29.6" y="49.5" fill="#1b6fc4">VOUT 2V/DIV</text>
<text x="24.4" y="186.2" fill="#187a5c">IOUT 2A/DIV</text>
<text x="31.3" y="280.9" fill="#a000a0">EN 2V/DIV</text>
<text x="17" y="340.4" fill="#a5551e" style="font-size:17.2px">PGOOD 5V/DIV</text>
<text x="555.2" y="496.9" fill="#1a1a1a">100 <tspan class="mu">µ</tspan>s/DIV</text>
</svg>
</body></html>
